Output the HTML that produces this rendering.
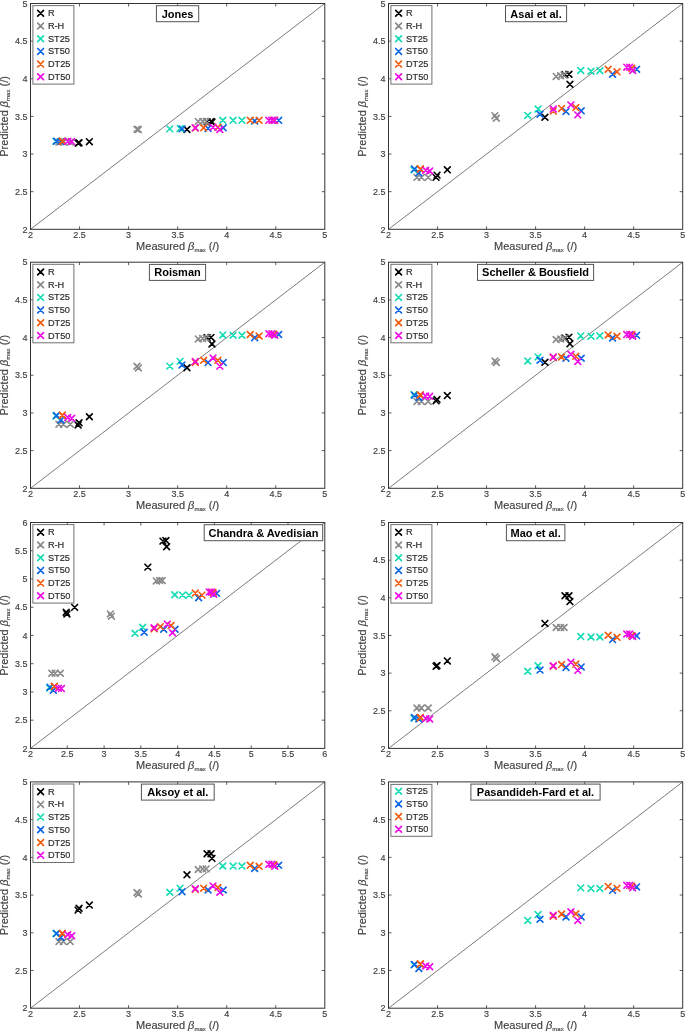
<!DOCTYPE html>
<html><head><meta charset="utf-8"><style>
html,body{margin:0;padding:0;background:#fff;}
svg{display:block;filter:blur(0.5px);}
text{font-family:"Liberation Sans",sans-serif;}
.tk{font-size:9px;fill:#404040;stroke:#404040;stroke-width:0.15px;}
.lg{font-size:9.2px;fill:#262626;stroke:#262626;stroke-width:0.15px;}
.lb{font-size:11px;fill:#404040;stroke:#404040;stroke-width:0.15px;}
.sub{font-size:6px;}
.tt{font-size:11px;font-weight:bold;fill:#000;}
</style></head><body>
<svg width="685" height="1031" viewBox="0 0 685 1031">
<rect width="685" height="1031" fill="#fff"/>
<line x1="30.5" y1="229.3" x2="324.8" y2="3.5" stroke="#505050" stroke-width="0.75"/>
<text x="30.50" y="237.80" text-anchor="middle" class="tk">2</text>
<text x="27.40" y="232.50" text-anchor="end" class="tk">2</text>
<line x1="79.55" y1="229.3" x2="79.55" y2="226.3" stroke="#333333" stroke-width="0.8"/>
<line x1="79.55" y1="3.5" x2="79.55" y2="6.5" stroke="#333333" stroke-width="0.8"/>
<line x1="30.5" y1="191.67" x2="33.5" y2="191.67" stroke="#333333" stroke-width="0.8"/>
<line x1="324.8" y1="191.67" x2="321.8" y2="191.67" stroke="#333333" stroke-width="0.8"/>
<text x="79.55" y="237.80" text-anchor="middle" class="tk">2.5</text>
<text x="27.40" y="194.87" text-anchor="end" class="tk">2.5</text>
<line x1="128.60" y1="229.3" x2="128.60" y2="226.3" stroke="#333333" stroke-width="0.8"/>
<line x1="128.60" y1="3.5" x2="128.60" y2="6.5" stroke="#333333" stroke-width="0.8"/>
<line x1="30.5" y1="154.03" x2="33.5" y2="154.03" stroke="#333333" stroke-width="0.8"/>
<line x1="324.8" y1="154.03" x2="321.8" y2="154.03" stroke="#333333" stroke-width="0.8"/>
<text x="128.60" y="237.80" text-anchor="middle" class="tk">3</text>
<text x="27.40" y="157.23" text-anchor="end" class="tk">3</text>
<line x1="177.65" y1="229.3" x2="177.65" y2="226.3" stroke="#333333" stroke-width="0.8"/>
<line x1="177.65" y1="3.5" x2="177.65" y2="6.5" stroke="#333333" stroke-width="0.8"/>
<line x1="30.5" y1="116.40" x2="33.5" y2="116.40" stroke="#333333" stroke-width="0.8"/>
<line x1="324.8" y1="116.40" x2="321.8" y2="116.40" stroke="#333333" stroke-width="0.8"/>
<text x="177.65" y="237.80" text-anchor="middle" class="tk">3.5</text>
<text x="27.40" y="119.60" text-anchor="end" class="tk">3.5</text>
<line x1="226.70" y1="229.3" x2="226.70" y2="226.3" stroke="#333333" stroke-width="0.8"/>
<line x1="226.70" y1="3.5" x2="226.70" y2="6.5" stroke="#333333" stroke-width="0.8"/>
<line x1="30.5" y1="78.77" x2="33.5" y2="78.77" stroke="#333333" stroke-width="0.8"/>
<line x1="324.8" y1="78.77" x2="321.8" y2="78.77" stroke="#333333" stroke-width="0.8"/>
<text x="226.70" y="237.80" text-anchor="middle" class="tk">4</text>
<text x="27.40" y="81.97" text-anchor="end" class="tk">4</text>
<line x1="275.75" y1="229.3" x2="275.75" y2="226.3" stroke="#333333" stroke-width="0.8"/>
<line x1="275.75" y1="3.5" x2="275.75" y2="6.5" stroke="#333333" stroke-width="0.8"/>
<line x1="30.5" y1="41.13" x2="33.5" y2="41.13" stroke="#333333" stroke-width="0.8"/>
<line x1="324.8" y1="41.13" x2="321.8" y2="41.13" stroke="#333333" stroke-width="0.8"/>
<text x="275.75" y="237.80" text-anchor="middle" class="tk">4.5</text>
<text x="27.40" y="44.33" text-anchor="end" class="tk">4.5</text>
<text x="324.80" y="237.80" text-anchor="middle" class="tk">5</text>
<text x="27.40" y="6.70" text-anchor="end" class="tk">5</text>
<path d="M75.18 140.22L80.98 146.02M75.18 146.02L80.98 140.22" stroke="#000000" stroke-width="1.65" stroke-linecap="round"/>
<path d="M76.16 139.84L81.96 145.64M76.16 145.64L81.96 139.84" stroke="#000000" stroke-width="1.65" stroke-linecap="round"/>
<path d="M86.46 138.79L92.26 144.59M86.46 144.59L92.26 138.79" stroke="#000000" stroke-width="1.65" stroke-linecap="round"/>
<path d="M184.07 126.60L189.87 132.40M184.07 132.40L189.87 126.60" stroke="#000000" stroke-width="1.65" stroke-linecap="round"/>
<path d="M204.18 118.77L209.98 124.57M204.18 124.57L209.98 118.77" stroke="#000000" stroke-width="1.65" stroke-linecap="round"/>
<path d="M208.10 118.54L213.90 124.34M208.10 124.34L213.90 118.54" stroke="#000000" stroke-width="1.65" stroke-linecap="round"/>
<path d="M209.09 119.15L214.89 124.95M209.09 124.95L214.89 119.15" stroke="#000000" stroke-width="1.65" stroke-linecap="round"/>
<path d="M56.05 139.09L61.85 144.89M56.05 144.89L61.85 139.09" stroke="#8a8a8a" stroke-width="1.65" stroke-linecap="round"/>
<path d="M60.46 139.09L66.26 144.89M60.46 144.89L66.26 139.09" stroke="#8a8a8a" stroke-width="1.65" stroke-linecap="round"/>
<path d="M67.33 139.09L73.13 144.89M67.33 144.89L73.13 139.09" stroke="#8a8a8a" stroke-width="1.65" stroke-linecap="round"/>
<path d="M134.04 126.30L139.84 132.10M134.04 132.10L139.84 126.30" stroke="#8a8a8a" stroke-width="1.65" stroke-linecap="round"/>
<path d="M135.51 126.67L141.31 132.47M135.51 132.47L141.31 126.67" stroke="#8a8a8a" stroke-width="1.65" stroke-linecap="round"/>
<path d="M195.35 118.54L201.15 124.34M195.35 124.34L201.15 118.54" stroke="#8a8a8a" stroke-width="1.65" stroke-linecap="round"/>
<path d="M199.77 118.54L205.57 124.34M199.77 124.34L205.57 118.54" stroke="#8a8a8a" stroke-width="1.65" stroke-linecap="round"/>
<path d="M203.20 118.54L209.00 124.34M203.20 124.34L209.00 118.54" stroke="#8a8a8a" stroke-width="1.65" stroke-linecap="round"/>
<path d="M53.11 138.34L58.91 144.14M53.11 144.14L58.91 138.34" stroke="#14dcb4" stroke-width="1.65" stroke-linecap="round"/>
<path d="M166.90 125.99L172.70 131.79M166.90 131.79L172.70 125.99" stroke="#14dcb4" stroke-width="1.65" stroke-linecap="round"/>
<path d="M177.20 125.54L183.00 131.34M177.20 131.34L183.00 125.54" stroke="#14dcb4" stroke-width="1.65" stroke-linecap="round"/>
<path d="M219.88 117.34L225.68 123.14M219.88 123.14L225.68 117.34" stroke="#14dcb4" stroke-width="1.65" stroke-linecap="round"/>
<path d="M230.18 117.41L235.98 123.21M230.18 123.21L235.98 117.41" stroke="#14dcb4" stroke-width="1.65" stroke-linecap="round"/>
<path d="M239.01 117.41L244.81 123.21M239.01 123.21L244.81 117.41" stroke="#14dcb4" stroke-width="1.65" stroke-linecap="round"/>
<path d="M53.60 138.34L59.40 144.14M53.60 144.14L59.40 138.34" stroke="#0a64e6" stroke-width="1.65" stroke-linecap="round"/>
<path d="M58.01 138.71L63.81 144.51M58.01 144.51L63.81 138.71" stroke="#0a64e6" stroke-width="1.65" stroke-linecap="round"/>
<path d="M179.16 125.99L184.96 131.79M179.16 131.79L184.96 125.99" stroke="#0a64e6" stroke-width="1.65" stroke-linecap="round"/>
<path d="M205.16 125.54L210.96 131.34M205.16 131.34L210.96 125.54" stroke="#0a64e6" stroke-width="1.65" stroke-linecap="round"/>
<path d="M220.37 124.94L226.17 130.74M220.37 130.74L226.17 124.94" stroke="#0a64e6" stroke-width="1.65" stroke-linecap="round"/>
<path d="M251.76 118.02L257.56 123.82M251.76 123.82L257.56 118.02" stroke="#0a64e6" stroke-width="1.65" stroke-linecap="round"/>
<path d="M275.79 117.41L281.59 123.21M275.79 123.21L281.59 117.41" stroke="#0a64e6" stroke-width="1.65" stroke-linecap="round"/>
<path d="M59.48 138.34L65.28 144.14M59.48 144.14L65.28 138.34" stroke="#f55a0a" stroke-width="1.65" stroke-linecap="round"/>
<path d="M59.48 138.34L65.28 144.14M59.48 144.14L65.28 138.34" stroke="#f55a0a" stroke-width="1.65" stroke-linecap="round"/>
<path d="M192.41 125.17L198.21 130.97M192.41 130.97L198.21 125.17" stroke="#f55a0a" stroke-width="1.65" stroke-linecap="round"/>
<path d="M200.75 124.94L206.55 130.74M200.75 130.74L206.55 124.94" stroke="#f55a0a" stroke-width="1.65" stroke-linecap="round"/>
<path d="M214.97 124.34L220.77 130.14M214.97 130.14L220.77 124.34" stroke="#f55a0a" stroke-width="1.65" stroke-linecap="round"/>
<path d="M247.34 117.41L253.14 123.21M247.34 123.21L253.14 117.41" stroke="#f55a0a" stroke-width="1.65" stroke-linecap="round"/>
<path d="M256.17 117.41L261.97 123.21M256.17 123.21L261.97 117.41" stroke="#f55a0a" stroke-width="1.65" stroke-linecap="round"/>
<path d="M270.89 117.41L276.69 123.21M270.89 123.21L276.69 117.41" stroke="#f55a0a" stroke-width="1.65" stroke-linecap="round"/>
<path d="M64.88 138.34L70.68 144.14M64.88 144.14L70.68 138.34" stroke="#f00ae6" stroke-width="1.65" stroke-linecap="round"/>
<path d="M68.80 138.71L74.60 144.51M68.80 144.51L74.60 138.71" stroke="#f00ae6" stroke-width="1.65" stroke-linecap="round"/>
<path d="M192.41 124.94L198.21 130.74M192.41 130.74L198.21 124.94" stroke="#f00ae6" stroke-width="1.65" stroke-linecap="round"/>
<path d="M210.07 124.34L215.87 130.14M210.07 130.14L215.87 124.34" stroke="#f00ae6" stroke-width="1.65" stroke-linecap="round"/>
<path d="M216.93 126.60L222.73 132.40M216.93 132.40L222.73 126.60" stroke="#f00ae6" stroke-width="1.65" stroke-linecap="round"/>
<path d="M265.98 117.41L271.78 123.21M265.98 123.21L271.78 117.41" stroke="#f00ae6" stroke-width="1.65" stroke-linecap="round"/>
<path d="M268.93 117.41L274.73 123.21M268.93 123.21L274.73 117.41" stroke="#f00ae6" stroke-width="1.65" stroke-linecap="round"/>
<path d="M271.87 117.41L277.67 123.21M271.87 123.21L277.67 117.41" stroke="#f00ae6" stroke-width="1.65" stroke-linecap="round"/>
<rect x="30.5" y="3.5" width="294.30" height="225.80" fill="none" stroke="#333333" stroke-width="1"/>
<text x="177.65" y="249.70" text-anchor="middle" class="lb">Measured <tspan font-style="italic">&#946;</tspan><tspan class="sub" dy="2.5">max</tspan><tspan dy="-2.5"> (/)</tspan></text>
<text transform="translate(7.70,116.40) rotate(-90)" x="0" y="0" text-anchor="middle" class="lb">Predicted <tspan font-style="italic">&#946;</tspan><tspan class="sub" dy="2.5">max</tspan><tspan dy="-2.5"> (/)</tspan></text>
<rect x="32.90" y="5.60" width="41.0" height="78.50" fill="#fff" stroke="#707070" stroke-width="1"/>
<path d="M37.70 10.40L43.50 16.20M37.70 16.20L43.50 10.40" stroke="#000000" stroke-width="1.65" stroke-linecap="round"/>
<text x="47.90" y="16.30" class="lg">R</text>
<path d="M37.70 23.10L43.50 28.90M37.70 28.90L43.50 23.10" stroke="#8a8a8a" stroke-width="1.65" stroke-linecap="round"/>
<text x="47.90" y="29.00" class="lg">R-H</text>
<path d="M37.70 35.80L43.50 41.60M37.70 41.60L43.50 35.80" stroke="#14dcb4" stroke-width="1.65" stroke-linecap="round"/>
<text x="47.90" y="41.70" class="lg">ST25</text>
<path d="M37.70 48.50L43.50 54.30M37.70 54.30L43.50 48.50" stroke="#0a64e6" stroke-width="1.65" stroke-linecap="round"/>
<text x="47.90" y="54.40" class="lg">ST50</text>
<path d="M37.70 61.20L43.50 67.00M37.70 67.00L43.50 61.20" stroke="#f55a0a" stroke-width="1.65" stroke-linecap="round"/>
<text x="47.90" y="67.10" class="lg">DT25</text>
<path d="M37.70 73.90L43.50 79.70M37.70 79.70L43.50 73.90" stroke="#f00ae6" stroke-width="1.65" stroke-linecap="round"/>
<text x="47.90" y="79.80" class="lg">DT50</text>
<rect x="156.40" y="5.70" width="42.30" height="16" fill="#fff" stroke="#555" stroke-width="1"/>
<text x="177.55" y="17.60" text-anchor="middle" class="tt">Jones</text>
<line x1="388.5" y1="229.3" x2="682.7" y2="3.5" stroke="#505050" stroke-width="0.75"/>
<text x="388.50" y="237.80" text-anchor="middle" class="tk">2</text>
<text x="385.40" y="232.50" text-anchor="end" class="tk">2</text>
<line x1="437.53" y1="229.3" x2="437.53" y2="226.3" stroke="#333333" stroke-width="0.8"/>
<line x1="437.53" y1="3.5" x2="437.53" y2="6.5" stroke="#333333" stroke-width="0.8"/>
<line x1="388.5" y1="191.67" x2="391.5" y2="191.67" stroke="#333333" stroke-width="0.8"/>
<line x1="682.7" y1="191.67" x2="679.7" y2="191.67" stroke="#333333" stroke-width="0.8"/>
<text x="437.53" y="237.80" text-anchor="middle" class="tk">2.5</text>
<text x="385.40" y="194.87" text-anchor="end" class="tk">2.5</text>
<line x1="486.57" y1="229.3" x2="486.57" y2="226.3" stroke="#333333" stroke-width="0.8"/>
<line x1="486.57" y1="3.5" x2="486.57" y2="6.5" stroke="#333333" stroke-width="0.8"/>
<line x1="388.5" y1="154.03" x2="391.5" y2="154.03" stroke="#333333" stroke-width="0.8"/>
<line x1="682.7" y1="154.03" x2="679.7" y2="154.03" stroke="#333333" stroke-width="0.8"/>
<text x="486.57" y="237.80" text-anchor="middle" class="tk">3</text>
<text x="385.40" y="157.23" text-anchor="end" class="tk">3</text>
<line x1="535.60" y1="229.3" x2="535.60" y2="226.3" stroke="#333333" stroke-width="0.8"/>
<line x1="535.60" y1="3.5" x2="535.60" y2="6.5" stroke="#333333" stroke-width="0.8"/>
<line x1="388.5" y1="116.40" x2="391.5" y2="116.40" stroke="#333333" stroke-width="0.8"/>
<line x1="682.7" y1="116.40" x2="679.7" y2="116.40" stroke="#333333" stroke-width="0.8"/>
<text x="535.60" y="237.80" text-anchor="middle" class="tk">3.5</text>
<text x="385.40" y="119.60" text-anchor="end" class="tk">3.5</text>
<line x1="584.63" y1="229.3" x2="584.63" y2="226.3" stroke="#333333" stroke-width="0.8"/>
<line x1="584.63" y1="3.5" x2="584.63" y2="6.5" stroke="#333333" stroke-width="0.8"/>
<line x1="388.5" y1="78.77" x2="391.5" y2="78.77" stroke="#333333" stroke-width="0.8"/>
<line x1="682.7" y1="78.77" x2="679.7" y2="78.77" stroke="#333333" stroke-width="0.8"/>
<text x="584.63" y="237.80" text-anchor="middle" class="tk">4</text>
<text x="385.40" y="81.97" text-anchor="end" class="tk">4</text>
<line x1="633.67" y1="229.3" x2="633.67" y2="226.3" stroke="#333333" stroke-width="0.8"/>
<line x1="633.67" y1="3.5" x2="633.67" y2="6.5" stroke="#333333" stroke-width="0.8"/>
<line x1="388.5" y1="41.13" x2="391.5" y2="41.13" stroke="#333333" stroke-width="0.8"/>
<line x1="682.7" y1="41.13" x2="679.7" y2="41.13" stroke="#333333" stroke-width="0.8"/>
<text x="633.67" y="237.80" text-anchor="middle" class="tk">4.5</text>
<text x="385.40" y="44.33" text-anchor="end" class="tk">4.5</text>
<text x="682.70" y="237.80" text-anchor="middle" class="tk">5</text>
<text x="385.40" y="6.70" text-anchor="end" class="tk">5</text>
<path d="M433.16 174.47L438.96 180.27M433.16 180.27L438.96 174.47" stroke="#000000" stroke-width="1.65" stroke-linecap="round"/>
<path d="M434.14 172.21L439.94 178.01M434.14 178.01L439.94 172.21" stroke="#000000" stroke-width="1.65" stroke-linecap="round"/>
<path d="M444.44 166.94L450.24 172.74M444.44 172.74L450.24 166.94" stroke="#000000" stroke-width="1.65" stroke-linecap="round"/>
<path d="M542.02 114.33L547.82 120.13M542.02 120.13L547.82 114.33" stroke="#000000" stroke-width="1.65" stroke-linecap="round"/>
<path d="M562.12 71.73L567.92 77.53M562.12 77.53L567.92 71.73" stroke="#000000" stroke-width="1.65" stroke-linecap="round"/>
<path d="M566.04 71.35L571.84 77.15M566.04 77.15L571.84 71.35" stroke="#000000" stroke-width="1.65" stroke-linecap="round"/>
<path d="M567.02 81.44L572.82 87.24M567.02 87.24L572.82 81.44" stroke="#000000" stroke-width="1.65" stroke-linecap="round"/>
<path d="M414.04 174.47L419.84 180.27M414.04 180.27L419.84 174.47" stroke="#8a8a8a" stroke-width="1.65" stroke-linecap="round"/>
<path d="M418.45 174.47L424.25 180.27M418.45 180.27L424.25 174.47" stroke="#8a8a8a" stroke-width="1.65" stroke-linecap="round"/>
<path d="M425.32 174.47L431.12 180.27M425.32 180.27L431.12 174.47" stroke="#8a8a8a" stroke-width="1.65" stroke-linecap="round"/>
<path d="M492.00 112.75L497.80 118.55M492.00 118.55L497.80 112.75" stroke="#8a8a8a" stroke-width="1.65" stroke-linecap="round"/>
<path d="M493.47 115.38L499.27 121.18M493.47 121.18L499.27 115.38" stroke="#8a8a8a" stroke-width="1.65" stroke-linecap="round"/>
<path d="M553.29 73.53L559.09 79.33M553.29 79.33L559.09 73.53" stroke="#8a8a8a" stroke-width="1.65" stroke-linecap="round"/>
<path d="M557.71 72.93L563.51 78.73M557.71 78.73L563.51 72.93" stroke="#8a8a8a" stroke-width="1.65" stroke-linecap="round"/>
<path d="M561.14 72.18L566.94 77.98M561.14 77.98L566.94 72.18" stroke="#8a8a8a" stroke-width="1.65" stroke-linecap="round"/>
<path d="M411.10 166.94L416.90 172.74M411.10 172.74L416.90 166.94" stroke="#14dcb4" stroke-width="1.65" stroke-linecap="round"/>
<path d="M524.85 112.52L530.65 118.32M524.85 118.32L530.65 112.52" stroke="#14dcb4" stroke-width="1.65" stroke-linecap="round"/>
<path d="M535.15 106.12L540.95 111.92M535.15 111.92L540.95 106.12" stroke="#14dcb4" stroke-width="1.65" stroke-linecap="round"/>
<path d="M577.81 67.59L583.61 73.39M577.81 73.39L583.61 67.59" stroke="#14dcb4" stroke-width="1.65" stroke-linecap="round"/>
<path d="M588.11 68.34L593.91 74.14M588.11 74.14L593.91 68.34" stroke="#14dcb4" stroke-width="1.65" stroke-linecap="round"/>
<path d="M596.93 67.89L602.73 73.69M596.93 73.69L602.73 67.89" stroke="#14dcb4" stroke-width="1.65" stroke-linecap="round"/>
<path d="M411.59 166.19L417.39 171.99M411.59 171.99L417.39 166.19" stroke="#0a64e6" stroke-width="1.65" stroke-linecap="round"/>
<path d="M416.00 169.95L421.80 175.75M416.00 175.75L421.80 169.95" stroke="#0a64e6" stroke-width="1.65" stroke-linecap="round"/>
<path d="M537.11 111.39L542.91 117.19M537.11 117.19L542.91 111.39" stroke="#0a64e6" stroke-width="1.65" stroke-linecap="round"/>
<path d="M563.10 108.53L568.90 114.33M563.10 114.33L568.90 108.53" stroke="#0a64e6" stroke-width="1.65" stroke-linecap="round"/>
<path d="M578.30 107.93L584.10 113.73M578.30 113.73L584.10 107.93" stroke="#0a64e6" stroke-width="1.65" stroke-linecap="round"/>
<path d="M609.68 71.35L615.48 77.15M609.68 77.15L615.48 71.35" stroke="#0a64e6" stroke-width="1.65" stroke-linecap="round"/>
<path d="M633.71 66.31L639.51 72.11M633.71 72.11L639.51 66.31" stroke="#0a64e6" stroke-width="1.65" stroke-linecap="round"/>
<path d="M417.47 166.19L423.27 171.99M417.47 171.99L423.27 166.19" stroke="#f55a0a" stroke-width="1.65" stroke-linecap="round"/>
<path d="M417.47 166.19L423.27 171.99M417.47 171.99L423.27 166.19" stroke="#f55a0a" stroke-width="1.65" stroke-linecap="round"/>
<path d="M550.35 108.23L556.15 114.03M550.35 114.03L556.15 108.23" stroke="#f55a0a" stroke-width="1.65" stroke-linecap="round"/>
<path d="M558.69 105.52L564.49 111.32M558.69 111.32L564.49 105.52" stroke="#f55a0a" stroke-width="1.65" stroke-linecap="round"/>
<path d="M572.91 104.69L578.71 110.49M572.91 110.49L578.71 104.69" stroke="#f55a0a" stroke-width="1.65" stroke-linecap="round"/>
<path d="M605.27 66.31L611.07 72.11M605.27 72.11L611.07 66.31" stroke="#f55a0a" stroke-width="1.65" stroke-linecap="round"/>
<path d="M614.10 68.94L619.90 74.74M614.10 74.74L619.90 68.94" stroke="#f55a0a" stroke-width="1.65" stroke-linecap="round"/>
<path d="M628.81 65.33L634.61 71.13M628.81 71.13L634.61 65.33" stroke="#f55a0a" stroke-width="1.65" stroke-linecap="round"/>
<path d="M422.87 167.32L428.67 173.12M422.87 173.12L428.67 167.32" stroke="#f00ae6" stroke-width="1.65" stroke-linecap="round"/>
<path d="M426.79 168.07L432.59 173.87M426.79 173.87L432.59 168.07" stroke="#f00ae6" stroke-width="1.65" stroke-linecap="round"/>
<path d="M550.35 106.12L556.15 111.92M550.35 111.92L556.15 106.12" stroke="#f00ae6" stroke-width="1.65" stroke-linecap="round"/>
<path d="M568.00 101.98L573.80 107.78M568.00 107.78L573.80 101.98" stroke="#f00ae6" stroke-width="1.65" stroke-linecap="round"/>
<path d="M574.87 111.99L580.67 117.79M574.87 117.79L580.67 111.99" stroke="#f00ae6" stroke-width="1.65" stroke-linecap="round"/>
<path d="M623.90 64.28L629.70 70.08M623.90 70.08L629.70 64.28" stroke="#f00ae6" stroke-width="1.65" stroke-linecap="round"/>
<path d="M626.84 64.28L632.64 70.08M626.84 70.08L632.64 64.28" stroke="#f00ae6" stroke-width="1.65" stroke-linecap="round"/>
<path d="M629.79 67.59L635.59 73.39M629.79 73.39L635.59 67.59" stroke="#f00ae6" stroke-width="1.65" stroke-linecap="round"/>
<rect x="388.5" y="3.5" width="294.20" height="225.80" fill="none" stroke="#333333" stroke-width="1"/>
<text x="535.60" y="249.70" text-anchor="middle" class="lb">Measured <tspan font-style="italic">&#946;</tspan><tspan class="sub" dy="2.5">max</tspan><tspan dy="-2.5"> (/)</tspan></text>
<text transform="translate(365.70,116.40) rotate(-90)" x="0" y="0" text-anchor="middle" class="lb">Predicted <tspan font-style="italic">&#946;</tspan><tspan class="sub" dy="2.5">max</tspan><tspan dy="-2.5"> (/)</tspan></text>
<rect x="390.90" y="5.60" width="41.0" height="78.50" fill="#fff" stroke="#707070" stroke-width="1"/>
<path d="M395.70 10.40L401.50 16.20M395.70 16.20L401.50 10.40" stroke="#000000" stroke-width="1.65" stroke-linecap="round"/>
<text x="405.90" y="16.30" class="lg">R</text>
<path d="M395.70 23.10L401.50 28.90M395.70 28.90L401.50 23.10" stroke="#8a8a8a" stroke-width="1.65" stroke-linecap="round"/>
<text x="405.90" y="29.00" class="lg">R-H</text>
<path d="M395.70 35.80L401.50 41.60M395.70 41.60L401.50 35.80" stroke="#14dcb4" stroke-width="1.65" stroke-linecap="round"/>
<text x="405.90" y="41.70" class="lg">ST25</text>
<path d="M395.70 48.50L401.50 54.30M395.70 54.30L401.50 48.50" stroke="#0a64e6" stroke-width="1.65" stroke-linecap="round"/>
<text x="405.90" y="54.40" class="lg">ST50</text>
<path d="M395.70 61.20L401.50 67.00M395.70 67.00L401.50 61.20" stroke="#f55a0a" stroke-width="1.65" stroke-linecap="round"/>
<text x="405.90" y="67.10" class="lg">DT25</text>
<path d="M395.70 73.90L401.50 79.70M395.70 79.70L401.50 73.90" stroke="#f00ae6" stroke-width="1.65" stroke-linecap="round"/>
<text x="405.90" y="79.80" class="lg">DT50</text>
<rect x="505.50" y="5.70" width="61.10" height="16" fill="#fff" stroke="#555" stroke-width="1"/>
<text x="536.05" y="17.60" text-anchor="middle" class="tt">Asai et al.</text>
<line x1="30.5" y1="488.3" x2="324.8" y2="262.2" stroke="#505050" stroke-width="0.75"/>
<text x="30.50" y="496.80" text-anchor="middle" class="tk">2</text>
<text x="27.40" y="491.50" text-anchor="end" class="tk">2</text>
<line x1="79.55" y1="488.3" x2="79.55" y2="485.3" stroke="#333333" stroke-width="0.8"/>
<line x1="79.55" y1="262.2" x2="79.55" y2="265.2" stroke="#333333" stroke-width="0.8"/>
<line x1="30.5" y1="450.62" x2="33.5" y2="450.62" stroke="#333333" stroke-width="0.8"/>
<line x1="324.8" y1="450.62" x2="321.8" y2="450.62" stroke="#333333" stroke-width="0.8"/>
<text x="79.55" y="496.80" text-anchor="middle" class="tk">2.5</text>
<text x="27.40" y="453.82" text-anchor="end" class="tk">2.5</text>
<line x1="128.60" y1="488.3" x2="128.60" y2="485.3" stroke="#333333" stroke-width="0.8"/>
<line x1="128.60" y1="262.2" x2="128.60" y2="265.2" stroke="#333333" stroke-width="0.8"/>
<line x1="30.5" y1="412.93" x2="33.5" y2="412.93" stroke="#333333" stroke-width="0.8"/>
<line x1="324.8" y1="412.93" x2="321.8" y2="412.93" stroke="#333333" stroke-width="0.8"/>
<text x="128.60" y="496.80" text-anchor="middle" class="tk">3</text>
<text x="27.40" y="416.13" text-anchor="end" class="tk">3</text>
<line x1="177.65" y1="488.3" x2="177.65" y2="485.3" stroke="#333333" stroke-width="0.8"/>
<line x1="177.65" y1="262.2" x2="177.65" y2="265.2" stroke="#333333" stroke-width="0.8"/>
<line x1="30.5" y1="375.25" x2="33.5" y2="375.25" stroke="#333333" stroke-width="0.8"/>
<line x1="324.8" y1="375.25" x2="321.8" y2="375.25" stroke="#333333" stroke-width="0.8"/>
<text x="177.65" y="496.80" text-anchor="middle" class="tk">3.5</text>
<text x="27.40" y="378.45" text-anchor="end" class="tk">3.5</text>
<line x1="226.70" y1="488.3" x2="226.70" y2="485.3" stroke="#333333" stroke-width="0.8"/>
<line x1="226.70" y1="262.2" x2="226.70" y2="265.2" stroke="#333333" stroke-width="0.8"/>
<line x1="30.5" y1="337.57" x2="33.5" y2="337.57" stroke="#333333" stroke-width="0.8"/>
<line x1="324.8" y1="337.57" x2="321.8" y2="337.57" stroke="#333333" stroke-width="0.8"/>
<text x="226.70" y="496.80" text-anchor="middle" class="tk">4</text>
<text x="27.40" y="340.77" text-anchor="end" class="tk">4</text>
<line x1="275.75" y1="488.3" x2="275.75" y2="485.3" stroke="#333333" stroke-width="0.8"/>
<line x1="275.75" y1="262.2" x2="275.75" y2="265.2" stroke="#333333" stroke-width="0.8"/>
<line x1="30.5" y1="299.88" x2="33.5" y2="299.88" stroke="#333333" stroke-width="0.8"/>
<line x1="324.8" y1="299.88" x2="321.8" y2="299.88" stroke="#333333" stroke-width="0.8"/>
<text x="275.75" y="496.80" text-anchor="middle" class="tk">4.5</text>
<text x="27.40" y="303.08" text-anchor="end" class="tk">4.5</text>
<text x="324.80" y="496.80" text-anchor="middle" class="tk">5</text>
<text x="27.40" y="265.40" text-anchor="end" class="tk">5</text>
<path d="M75.18 422.09L80.98 427.89M75.18 427.89L80.98 422.09" stroke="#000000" stroke-width="1.65" stroke-linecap="round"/>
<path d="M76.16 419.83L81.96 425.63M76.16 425.63L81.96 419.83" stroke="#000000" stroke-width="1.65" stroke-linecap="round"/>
<path d="M86.46 413.80L92.26 419.60M86.46 419.60L92.26 413.80" stroke="#000000" stroke-width="1.65" stroke-linecap="round"/>
<path d="M184.07 364.89L189.87 370.69M184.07 370.69L189.87 364.89" stroke="#000000" stroke-width="1.65" stroke-linecap="round"/>
<path d="M204.18 334.67L209.98 340.47M204.18 340.47L209.98 334.67" stroke="#000000" stroke-width="1.65" stroke-linecap="round"/>
<path d="M208.10 334.52L213.90 340.32M208.10 340.32L213.90 334.52" stroke="#000000" stroke-width="1.65" stroke-linecap="round"/>
<path d="M209.09 341.07L214.89 346.87M209.09 346.87L214.89 341.07" stroke="#000000" stroke-width="1.65" stroke-linecap="round"/>
<path d="M56.05 421.34L61.85 427.14M56.05 427.14L61.85 421.34" stroke="#8a8a8a" stroke-width="1.65" stroke-linecap="round"/>
<path d="M60.46 421.34L66.26 427.14M60.46 427.14L66.26 421.34" stroke="#8a8a8a" stroke-width="1.65" stroke-linecap="round"/>
<path d="M67.33 421.34L73.13 427.14M67.33 427.14L73.13 421.34" stroke="#8a8a8a" stroke-width="1.65" stroke-linecap="round"/>
<path d="M134.04 363.31L139.84 369.11M134.04 369.11L139.84 363.31" stroke="#8a8a8a" stroke-width="1.65" stroke-linecap="round"/>
<path d="M135.51 365.04L141.31 370.84M135.51 370.84L141.31 365.04" stroke="#8a8a8a" stroke-width="1.65" stroke-linecap="round"/>
<path d="M195.35 336.02L201.15 341.82M195.35 341.82L201.15 336.02" stroke="#8a8a8a" stroke-width="1.65" stroke-linecap="round"/>
<path d="M199.77 335.50L205.57 341.30M199.77 341.30L205.57 335.50" stroke="#8a8a8a" stroke-width="1.65" stroke-linecap="round"/>
<path d="M203.20 335.19L209.00 340.99M203.20 340.99L209.00 335.19" stroke="#8a8a8a" stroke-width="1.65" stroke-linecap="round"/>
<path d="M53.11 413.05L58.91 418.85M53.11 418.85L58.91 413.05" stroke="#14dcb4" stroke-width="1.65" stroke-linecap="round"/>
<path d="M166.90 363.23L172.70 369.03M166.90 369.03L172.70 363.23" stroke="#14dcb4" stroke-width="1.65" stroke-linecap="round"/>
<path d="M177.20 358.48L183.00 364.28M177.20 364.28L183.00 358.48" stroke="#14dcb4" stroke-width="1.65" stroke-linecap="round"/>
<path d="M219.88 332.03L225.68 337.83M219.88 337.83L225.68 332.03" stroke="#14dcb4" stroke-width="1.65" stroke-linecap="round"/>
<path d="M230.18 332.33L235.98 338.13M230.18 338.13L235.98 332.33" stroke="#14dcb4" stroke-width="1.65" stroke-linecap="round"/>
<path d="M239.01 332.33L244.81 338.13M239.01 338.13L244.81 332.33" stroke="#14dcb4" stroke-width="1.65" stroke-linecap="round"/>
<path d="M53.60 412.67L59.40 418.47M53.60 418.47L59.40 412.67" stroke="#0a64e6" stroke-width="1.65" stroke-linecap="round"/>
<path d="M58.01 417.12L63.81 422.92M58.01 422.92L63.81 417.12" stroke="#0a64e6" stroke-width="1.65" stroke-linecap="round"/>
<path d="M179.16 362.02L184.96 367.82M179.16 367.82L184.96 362.02" stroke="#0a64e6" stroke-width="1.65" stroke-linecap="round"/>
<path d="M205.16 359.69L210.96 365.49M205.16 365.49L210.96 359.69" stroke="#0a64e6" stroke-width="1.65" stroke-linecap="round"/>
<path d="M220.37 359.69L226.17 365.49M220.37 365.49L226.17 359.69" stroke="#0a64e6" stroke-width="1.65" stroke-linecap="round"/>
<path d="M251.76 334.89L257.56 340.69M251.76 340.69L257.56 334.89" stroke="#0a64e6" stroke-width="1.65" stroke-linecap="round"/>
<path d="M275.79 331.65L281.59 337.45M275.79 337.45L281.59 331.65" stroke="#0a64e6" stroke-width="1.65" stroke-linecap="round"/>
<path d="M59.48 412.29L65.28 418.09M59.48 418.09L65.28 412.29" stroke="#f55a0a" stroke-width="1.65" stroke-linecap="round"/>
<path d="M59.48 412.29L65.28 418.09M59.48 418.09L65.28 412.29" stroke="#f55a0a" stroke-width="1.65" stroke-linecap="round"/>
<path d="M192.41 359.54L198.21 365.34M192.41 365.34L198.21 359.54" stroke="#f55a0a" stroke-width="1.65" stroke-linecap="round"/>
<path d="M200.75 357.43L206.55 363.23M200.75 363.23L206.55 357.43" stroke="#f55a0a" stroke-width="1.65" stroke-linecap="round"/>
<path d="M214.97 357.43L220.77 363.23M214.97 363.23L220.77 357.43" stroke="#f55a0a" stroke-width="1.65" stroke-linecap="round"/>
<path d="M247.34 331.65L253.14 337.45M247.34 337.45L253.14 331.65" stroke="#f55a0a" stroke-width="1.65" stroke-linecap="round"/>
<path d="M256.17 333.01L261.97 338.81M256.17 338.81L261.97 333.01" stroke="#f55a0a" stroke-width="1.65" stroke-linecap="round"/>
<path d="M270.89 331.28L276.69 337.08M270.89 337.08L276.69 331.28" stroke="#f55a0a" stroke-width="1.65" stroke-linecap="round"/>
<path d="M64.88 414.56L70.68 420.36M64.88 420.36L70.68 414.56" stroke="#f00ae6" stroke-width="1.65" stroke-linecap="round"/>
<path d="M68.80 415.31L74.60 421.11M68.80 421.11L74.60 415.31" stroke="#f00ae6" stroke-width="1.65" stroke-linecap="round"/>
<path d="M192.41 358.48L198.21 364.28M192.41 364.28L198.21 358.48" stroke="#f00ae6" stroke-width="1.65" stroke-linecap="round"/>
<path d="M210.07 355.02L215.87 360.82M210.07 360.82L215.87 355.02" stroke="#f00ae6" stroke-width="1.65" stroke-linecap="round"/>
<path d="M216.93 363.23L222.73 369.03M216.93 369.03L222.73 363.23" stroke="#f00ae6" stroke-width="1.65" stroke-linecap="round"/>
<path d="M265.98 330.90L271.78 336.70M265.98 336.70L271.78 330.90" stroke="#f00ae6" stroke-width="1.65" stroke-linecap="round"/>
<path d="M268.93 330.90L274.73 336.70M268.93 336.70L274.73 330.90" stroke="#f00ae6" stroke-width="1.65" stroke-linecap="round"/>
<path d="M271.87 332.33L277.67 338.13M271.87 338.13L277.67 332.33" stroke="#f00ae6" stroke-width="1.65" stroke-linecap="round"/>
<rect x="30.5" y="262.2" width="294.30" height="226.10" fill="none" stroke="#333333" stroke-width="1"/>
<text x="177.65" y="508.70" text-anchor="middle" class="lb">Measured <tspan font-style="italic">&#946;</tspan><tspan class="sub" dy="2.5">max</tspan><tspan dy="-2.5"> (/)</tspan></text>
<text transform="translate(7.70,375.25) rotate(-90)" x="0" y="0" text-anchor="middle" class="lb">Predicted <tspan font-style="italic">&#946;</tspan><tspan class="sub" dy="2.5">max</tspan><tspan dy="-2.5"> (/)</tspan></text>
<rect x="32.90" y="264.30" width="41.0" height="78.50" fill="#fff" stroke="#707070" stroke-width="1"/>
<path d="M37.70 269.10L43.50 274.90M37.70 274.90L43.50 269.10" stroke="#000000" stroke-width="1.65" stroke-linecap="round"/>
<text x="47.90" y="275.00" class="lg">R</text>
<path d="M37.70 281.80L43.50 287.60M37.70 287.60L43.50 281.80" stroke="#8a8a8a" stroke-width="1.65" stroke-linecap="round"/>
<text x="47.90" y="287.70" class="lg">R-H</text>
<path d="M37.70 294.50L43.50 300.30M37.70 300.30L43.50 294.50" stroke="#14dcb4" stroke-width="1.65" stroke-linecap="round"/>
<text x="47.90" y="300.40" class="lg">ST25</text>
<path d="M37.70 307.20L43.50 313.00M37.70 313.00L43.50 307.20" stroke="#0a64e6" stroke-width="1.65" stroke-linecap="round"/>
<text x="47.90" y="313.10" class="lg">ST50</text>
<path d="M37.70 319.90L43.50 325.70M37.70 325.70L43.50 319.90" stroke="#f55a0a" stroke-width="1.65" stroke-linecap="round"/>
<text x="47.90" y="325.80" class="lg">DT25</text>
<path d="M37.70 332.60L43.50 338.40M37.70 338.40L43.50 332.60" stroke="#f00ae6" stroke-width="1.65" stroke-linecap="round"/>
<text x="47.90" y="338.50" class="lg">DT50</text>
<rect x="149.40" y="264.40" width="56.20" height="16" fill="#fff" stroke="#555" stroke-width="1"/>
<text x="177.50" y="276.30" text-anchor="middle" class="tt">Roisman</text>
<line x1="388.5" y1="488.3" x2="682.7" y2="262.2" stroke="#505050" stroke-width="0.75"/>
<text x="388.50" y="496.80" text-anchor="middle" class="tk">2</text>
<text x="385.40" y="491.50" text-anchor="end" class="tk">2</text>
<line x1="437.53" y1="488.3" x2="437.53" y2="485.3" stroke="#333333" stroke-width="0.8"/>
<line x1="437.53" y1="262.2" x2="437.53" y2="265.2" stroke="#333333" stroke-width="0.8"/>
<line x1="388.5" y1="450.62" x2="391.5" y2="450.62" stroke="#333333" stroke-width="0.8"/>
<line x1="682.7" y1="450.62" x2="679.7" y2="450.62" stroke="#333333" stroke-width="0.8"/>
<text x="437.53" y="496.80" text-anchor="middle" class="tk">2.5</text>
<text x="385.40" y="453.82" text-anchor="end" class="tk">2.5</text>
<line x1="486.57" y1="488.3" x2="486.57" y2="485.3" stroke="#333333" stroke-width="0.8"/>
<line x1="486.57" y1="262.2" x2="486.57" y2="265.2" stroke="#333333" stroke-width="0.8"/>
<line x1="388.5" y1="412.93" x2="391.5" y2="412.93" stroke="#333333" stroke-width="0.8"/>
<line x1="682.7" y1="412.93" x2="679.7" y2="412.93" stroke="#333333" stroke-width="0.8"/>
<text x="486.57" y="496.80" text-anchor="middle" class="tk">3</text>
<text x="385.40" y="416.13" text-anchor="end" class="tk">3</text>
<line x1="535.60" y1="488.3" x2="535.60" y2="485.3" stroke="#333333" stroke-width="0.8"/>
<line x1="535.60" y1="262.2" x2="535.60" y2="265.2" stroke="#333333" stroke-width="0.8"/>
<line x1="388.5" y1="375.25" x2="391.5" y2="375.25" stroke="#333333" stroke-width="0.8"/>
<line x1="682.7" y1="375.25" x2="679.7" y2="375.25" stroke="#333333" stroke-width="0.8"/>
<text x="535.60" y="496.80" text-anchor="middle" class="tk">3.5</text>
<text x="385.40" y="378.45" text-anchor="end" class="tk">3.5</text>
<line x1="584.63" y1="488.3" x2="584.63" y2="485.3" stroke="#333333" stroke-width="0.8"/>
<line x1="584.63" y1="262.2" x2="584.63" y2="265.2" stroke="#333333" stroke-width="0.8"/>
<line x1="388.5" y1="337.57" x2="391.5" y2="337.57" stroke="#333333" stroke-width="0.8"/>
<line x1="682.7" y1="337.57" x2="679.7" y2="337.57" stroke="#333333" stroke-width="0.8"/>
<text x="584.63" y="496.80" text-anchor="middle" class="tk">4</text>
<text x="385.40" y="340.77" text-anchor="end" class="tk">4</text>
<line x1="633.67" y1="488.3" x2="633.67" y2="485.3" stroke="#333333" stroke-width="0.8"/>
<line x1="633.67" y1="262.2" x2="633.67" y2="265.2" stroke="#333333" stroke-width="0.8"/>
<line x1="388.5" y1="299.88" x2="391.5" y2="299.88" stroke="#333333" stroke-width="0.8"/>
<line x1="682.7" y1="299.88" x2="679.7" y2="299.88" stroke="#333333" stroke-width="0.8"/>
<text x="633.67" y="496.80" text-anchor="middle" class="tk">4.5</text>
<text x="385.40" y="303.08" text-anchor="end" class="tk">4.5</text>
<text x="682.70" y="496.80" text-anchor="middle" class="tk">5</text>
<text x="385.40" y="265.40" text-anchor="end" class="tk">5</text>
<path d="M433.16 397.97L438.96 403.77M433.16 403.77L438.96 397.97" stroke="#000000" stroke-width="1.65" stroke-linecap="round"/>
<path d="M434.14 396.47L439.94 402.27M434.14 402.27L439.94 396.47" stroke="#000000" stroke-width="1.65" stroke-linecap="round"/>
<path d="M444.44 392.70L450.24 398.50M444.44 398.50L450.24 392.70" stroke="#000000" stroke-width="1.65" stroke-linecap="round"/>
<path d="M542.02 359.31L547.82 365.11M542.02 365.11L547.82 359.31" stroke="#000000" stroke-width="1.65" stroke-linecap="round"/>
<path d="M562.12 335.04L567.92 340.84M562.12 340.84L567.92 335.04" stroke="#000000" stroke-width="1.65" stroke-linecap="round"/>
<path d="M566.04 334.29L571.84 340.09M566.04 340.09L571.84 334.29" stroke="#000000" stroke-width="1.65" stroke-linecap="round"/>
<path d="M567.02 340.92L572.82 346.72M567.02 346.72L572.82 340.92" stroke="#000000" stroke-width="1.65" stroke-linecap="round"/>
<path d="M414.04 398.50L419.84 404.30M414.04 404.30L419.84 398.50" stroke="#8a8a8a" stroke-width="1.65" stroke-linecap="round"/>
<path d="M418.45 398.50L424.25 404.30M418.45 404.30L424.25 398.50" stroke="#8a8a8a" stroke-width="1.65" stroke-linecap="round"/>
<path d="M425.32 398.50L431.12 404.30M425.32 404.30L431.12 398.50" stroke="#8a8a8a" stroke-width="1.65" stroke-linecap="round"/>
<path d="M492.00 358.03L497.80 363.83M492.00 363.83L497.80 358.03" stroke="#8a8a8a" stroke-width="1.65" stroke-linecap="round"/>
<path d="M493.47 359.61L499.27 365.41M493.47 365.41L499.27 359.61" stroke="#8a8a8a" stroke-width="1.65" stroke-linecap="round"/>
<path d="M553.29 336.63L559.09 342.43M553.29 342.43L559.09 336.63" stroke="#8a8a8a" stroke-width="1.65" stroke-linecap="round"/>
<path d="M557.71 336.02L563.51 341.82M557.71 341.82L563.51 336.02" stroke="#8a8a8a" stroke-width="1.65" stroke-linecap="round"/>
<path d="M561.14 335.57L566.94 341.37M561.14 341.37L566.94 335.57" stroke="#8a8a8a" stroke-width="1.65" stroke-linecap="round"/>
<path d="M411.10 391.57L416.90 397.37M411.10 397.37L416.90 391.57" stroke="#14dcb4" stroke-width="1.65" stroke-linecap="round"/>
<path d="M524.85 358.03L530.65 363.83M524.85 363.83L530.65 358.03" stroke="#14dcb4" stroke-width="1.65" stroke-linecap="round"/>
<path d="M535.15 354.04L540.95 359.84M535.15 359.84L540.95 354.04" stroke="#14dcb4" stroke-width="1.65" stroke-linecap="round"/>
<path d="M577.81 333.01L583.61 338.81M577.81 338.81L583.61 333.01" stroke="#14dcb4" stroke-width="1.65" stroke-linecap="round"/>
<path d="M588.11 333.39L593.91 339.19M588.11 339.19L593.91 333.39" stroke="#14dcb4" stroke-width="1.65" stroke-linecap="round"/>
<path d="M596.93 332.93L602.73 338.73M596.93 338.73L602.73 332.93" stroke="#14dcb4" stroke-width="1.65" stroke-linecap="round"/>
<path d="M411.59 392.32L417.39 398.12M411.59 398.12L417.39 392.32" stroke="#0a64e6" stroke-width="1.65" stroke-linecap="round"/>
<path d="M416.00 394.51L421.80 400.31M416.00 400.31L421.80 394.51" stroke="#0a64e6" stroke-width="1.65" stroke-linecap="round"/>
<path d="M537.11 357.28L542.91 363.08M537.11 363.08L542.91 357.28" stroke="#0a64e6" stroke-width="1.65" stroke-linecap="round"/>
<path d="M563.10 355.32L568.90 361.12M563.10 361.12L568.90 355.32" stroke="#0a64e6" stroke-width="1.65" stroke-linecap="round"/>
<path d="M578.30 355.32L584.10 361.12M578.30 361.12L584.10 355.32" stroke="#0a64e6" stroke-width="1.65" stroke-linecap="round"/>
<path d="M609.68 335.12L615.48 340.92M609.68 340.92L615.48 335.12" stroke="#0a64e6" stroke-width="1.65" stroke-linecap="round"/>
<path d="M633.71 332.41L639.51 338.21M633.71 338.21L639.51 332.41" stroke="#0a64e6" stroke-width="1.65" stroke-linecap="round"/>
<path d="M417.47 392.02L423.27 397.82M417.47 397.82L423.27 392.02" stroke="#f55a0a" stroke-width="1.65" stroke-linecap="round"/>
<path d="M417.47 392.02L423.27 397.82M417.47 397.82L423.27 392.02" stroke="#f55a0a" stroke-width="1.65" stroke-linecap="round"/>
<path d="M550.35 354.64L556.15 360.44M550.35 360.44L556.15 354.64" stroke="#f55a0a" stroke-width="1.65" stroke-linecap="round"/>
<path d="M558.69 354.04L564.49 359.84M558.69 359.84L564.49 354.04" stroke="#f55a0a" stroke-width="1.65" stroke-linecap="round"/>
<path d="M572.91 353.43L578.71 359.23M572.91 359.23L578.71 353.43" stroke="#f55a0a" stroke-width="1.65" stroke-linecap="round"/>
<path d="M605.27 332.03L611.07 337.83M605.27 337.83L611.07 332.03" stroke="#f55a0a" stroke-width="1.65" stroke-linecap="round"/>
<path d="M614.10 333.31L619.90 339.11M614.10 339.11L619.90 333.31" stroke="#f55a0a" stroke-width="1.65" stroke-linecap="round"/>
<path d="M628.81 331.65L634.61 337.45M628.81 337.45L634.61 331.65" stroke="#f55a0a" stroke-width="1.65" stroke-linecap="round"/>
<path d="M422.87 393.08L428.67 398.88M422.87 398.88L428.67 393.08" stroke="#f00ae6" stroke-width="1.65" stroke-linecap="round"/>
<path d="M426.79 393.45L432.59 399.25M426.79 399.25L432.59 393.45" stroke="#f00ae6" stroke-width="1.65" stroke-linecap="round"/>
<path d="M550.35 354.04L556.15 359.84M550.35 359.84L556.15 354.04" stroke="#f00ae6" stroke-width="1.65" stroke-linecap="round"/>
<path d="M568.00 351.40L573.80 357.20M568.00 357.20L573.80 351.40" stroke="#f00ae6" stroke-width="1.65" stroke-linecap="round"/>
<path d="M574.87 358.63L580.67 364.43M574.87 364.43L580.67 358.63" stroke="#f00ae6" stroke-width="1.65" stroke-linecap="round"/>
<path d="M623.90 331.58L629.70 337.38M623.90 337.38L629.70 331.58" stroke="#f00ae6" stroke-width="1.65" stroke-linecap="round"/>
<path d="M626.84 331.58L632.64 337.38M626.84 337.38L632.64 331.58" stroke="#f00ae6" stroke-width="1.65" stroke-linecap="round"/>
<path d="M629.79 333.31L635.59 339.11M629.79 339.11L635.59 333.31" stroke="#f00ae6" stroke-width="1.65" stroke-linecap="round"/>
<rect x="388.5" y="262.2" width="294.20" height="226.10" fill="none" stroke="#333333" stroke-width="1"/>
<text x="535.60" y="508.70" text-anchor="middle" class="lb">Measured <tspan font-style="italic">&#946;</tspan><tspan class="sub" dy="2.5">max</tspan><tspan dy="-2.5"> (/)</tspan></text>
<text transform="translate(365.70,375.25) rotate(-90)" x="0" y="0" text-anchor="middle" class="lb">Predicted <tspan font-style="italic">&#946;</tspan><tspan class="sub" dy="2.5">max</tspan><tspan dy="-2.5"> (/)</tspan></text>
<rect x="390.90" y="264.30" width="41.0" height="78.50" fill="#fff" stroke="#707070" stroke-width="1"/>
<path d="M395.70 269.10L401.50 274.90M395.70 274.90L401.50 269.10" stroke="#000000" stroke-width="1.65" stroke-linecap="round"/>
<text x="405.90" y="275.00" class="lg">R</text>
<path d="M395.70 281.80L401.50 287.60M395.70 287.60L401.50 281.80" stroke="#8a8a8a" stroke-width="1.65" stroke-linecap="round"/>
<text x="405.90" y="287.70" class="lg">R-H</text>
<path d="M395.70 294.50L401.50 300.30M395.70 300.30L401.50 294.50" stroke="#14dcb4" stroke-width="1.65" stroke-linecap="round"/>
<text x="405.90" y="300.40" class="lg">ST25</text>
<path d="M395.70 307.20L401.50 313.00M395.70 313.00L401.50 307.20" stroke="#0a64e6" stroke-width="1.65" stroke-linecap="round"/>
<text x="405.90" y="313.10" class="lg">ST50</text>
<path d="M395.70 319.90L401.50 325.70M395.70 325.70L401.50 319.90" stroke="#f55a0a" stroke-width="1.65" stroke-linecap="round"/>
<text x="405.90" y="325.80" class="lg">DT25</text>
<path d="M395.70 332.60L401.50 338.40M395.70 338.40L401.50 332.60" stroke="#f00ae6" stroke-width="1.65" stroke-linecap="round"/>
<text x="405.90" y="338.50" class="lg">DT50</text>
<rect x="477.50" y="264.40" width="116.10" height="16" fill="#fff" stroke="#555" stroke-width="1"/>
<text x="535.55" y="276.30" text-anchor="middle" class="tt">Scheller &amp; Bousfield</text>
<line x1="30.5" y1="748.4" x2="324.8" y2="522.5" stroke="#505050" stroke-width="0.75"/>
<text x="30.50" y="756.90" text-anchor="middle" class="tk">2</text>
<text x="27.40" y="751.60" text-anchor="end" class="tk">2</text>
<line x1="67.29" y1="748.4" x2="67.29" y2="745.4" stroke="#333333" stroke-width="0.8"/>
<line x1="67.29" y1="522.5" x2="67.29" y2="525.5" stroke="#333333" stroke-width="0.8"/>
<line x1="30.5" y1="720.16" x2="33.5" y2="720.16" stroke="#333333" stroke-width="0.8"/>
<line x1="324.8" y1="720.16" x2="321.8" y2="720.16" stroke="#333333" stroke-width="0.8"/>
<text x="67.29" y="756.90" text-anchor="middle" class="tk">2.5</text>
<text x="27.40" y="723.36" text-anchor="end" class="tk">2.5</text>
<line x1="104.08" y1="748.4" x2="104.08" y2="745.4" stroke="#333333" stroke-width="0.8"/>
<line x1="104.08" y1="522.5" x2="104.08" y2="525.5" stroke="#333333" stroke-width="0.8"/>
<line x1="30.5" y1="691.92" x2="33.5" y2="691.92" stroke="#333333" stroke-width="0.8"/>
<line x1="324.8" y1="691.92" x2="321.8" y2="691.92" stroke="#333333" stroke-width="0.8"/>
<text x="104.08" y="756.90" text-anchor="middle" class="tk">3</text>
<text x="27.40" y="695.12" text-anchor="end" class="tk">3</text>
<line x1="140.86" y1="748.4" x2="140.86" y2="745.4" stroke="#333333" stroke-width="0.8"/>
<line x1="140.86" y1="522.5" x2="140.86" y2="525.5" stroke="#333333" stroke-width="0.8"/>
<line x1="30.5" y1="663.69" x2="33.5" y2="663.69" stroke="#333333" stroke-width="0.8"/>
<line x1="324.8" y1="663.69" x2="321.8" y2="663.69" stroke="#333333" stroke-width="0.8"/>
<text x="140.86" y="756.90" text-anchor="middle" class="tk">3.5</text>
<text x="27.40" y="666.89" text-anchor="end" class="tk">3.5</text>
<line x1="177.65" y1="748.4" x2="177.65" y2="745.4" stroke="#333333" stroke-width="0.8"/>
<line x1="177.65" y1="522.5" x2="177.65" y2="525.5" stroke="#333333" stroke-width="0.8"/>
<line x1="30.5" y1="635.45" x2="33.5" y2="635.45" stroke="#333333" stroke-width="0.8"/>
<line x1="324.8" y1="635.45" x2="321.8" y2="635.45" stroke="#333333" stroke-width="0.8"/>
<text x="177.65" y="756.90" text-anchor="middle" class="tk">4</text>
<text x="27.40" y="638.65" text-anchor="end" class="tk">4</text>
<line x1="214.44" y1="748.4" x2="214.44" y2="745.4" stroke="#333333" stroke-width="0.8"/>
<line x1="214.44" y1="522.5" x2="214.44" y2="525.5" stroke="#333333" stroke-width="0.8"/>
<line x1="30.5" y1="607.21" x2="33.5" y2="607.21" stroke="#333333" stroke-width="0.8"/>
<line x1="324.8" y1="607.21" x2="321.8" y2="607.21" stroke="#333333" stroke-width="0.8"/>
<text x="214.44" y="756.90" text-anchor="middle" class="tk">4.5</text>
<text x="27.40" y="610.41" text-anchor="end" class="tk">4.5</text>
<line x1="251.23" y1="748.4" x2="251.23" y2="745.4" stroke="#333333" stroke-width="0.8"/>
<line x1="251.23" y1="522.5" x2="251.23" y2="525.5" stroke="#333333" stroke-width="0.8"/>
<line x1="30.5" y1="578.98" x2="33.5" y2="578.98" stroke="#333333" stroke-width="0.8"/>
<line x1="324.8" y1="578.98" x2="321.8" y2="578.98" stroke="#333333" stroke-width="0.8"/>
<text x="251.23" y="756.90" text-anchor="middle" class="tk">5</text>
<text x="27.40" y="582.18" text-anchor="end" class="tk">5</text>
<line x1="288.01" y1="748.4" x2="288.01" y2="745.4" stroke="#333333" stroke-width="0.8"/>
<line x1="288.01" y1="522.5" x2="288.01" y2="525.5" stroke="#333333" stroke-width="0.8"/>
<line x1="30.5" y1="550.74" x2="33.5" y2="550.74" stroke="#333333" stroke-width="0.8"/>
<line x1="324.8" y1="550.74" x2="321.8" y2="550.74" stroke="#333333" stroke-width="0.8"/>
<text x="288.01" y="756.90" text-anchor="middle" class="tk">5.5</text>
<text x="27.40" y="553.94" text-anchor="end" class="tk">5.5</text>
<text x="324.80" y="756.90" text-anchor="middle" class="tk">6</text>
<text x="27.40" y="525.70" text-anchor="end" class="tk">6</text>
<path d="M63.28 609.40L69.08 615.20M63.28 615.20L69.08 609.40" stroke="#000000" stroke-width="1.65" stroke-linecap="round"/>
<path d="M64.02 611.09L69.82 616.89M64.02 616.89L69.82 611.09" stroke="#000000" stroke-width="1.65" stroke-linecap="round"/>
<path d="M71.75 604.48L77.55 610.28M71.75 610.28L77.55 604.48" stroke="#000000" stroke-width="1.65" stroke-linecap="round"/>
<path d="M144.95 564.22L150.75 570.02M144.95 570.02L150.75 564.22" stroke="#000000" stroke-width="1.65" stroke-linecap="round"/>
<path d="M160.03 538.24L165.84 544.04M160.03 544.04L165.84 538.24" stroke="#000000" stroke-width="1.65" stroke-linecap="round"/>
<path d="M162.98 537.67L168.78 543.47M162.98 543.47L168.78 537.67" stroke="#000000" stroke-width="1.65" stroke-linecap="round"/>
<path d="M163.71 543.88L169.51 549.68M163.71 549.68L169.51 543.88" stroke="#000000" stroke-width="1.65" stroke-linecap="round"/>
<path d="M48.94 670.39L54.74 676.19M48.94 676.19L54.74 670.39" stroke="#8a8a8a" stroke-width="1.65" stroke-linecap="round"/>
<path d="M52.25 670.39L58.05 676.19M52.25 676.19L58.05 670.39" stroke="#8a8a8a" stroke-width="1.65" stroke-linecap="round"/>
<path d="M57.40 670.39L63.20 676.19M57.40 676.19L63.20 670.39" stroke="#8a8a8a" stroke-width="1.65" stroke-linecap="round"/>
<path d="M107.43 611.03L113.23 616.83M107.43 616.83L113.23 611.03" stroke="#8a8a8a" stroke-width="1.65" stroke-linecap="round"/>
<path d="M108.53 613.29L114.33 619.09M108.53 619.09L114.33 613.29" stroke="#8a8a8a" stroke-width="1.65" stroke-linecap="round"/>
<path d="M153.41 578.00L159.21 583.80M153.41 583.80L159.21 578.00" stroke="#8a8a8a" stroke-width="1.65" stroke-linecap="round"/>
<path d="M156.72 577.60L162.52 583.40M156.72 583.40L162.52 577.60" stroke="#8a8a8a" stroke-width="1.65" stroke-linecap="round"/>
<path d="M159.30 577.60L165.10 583.40M159.30 583.40L165.10 577.60" stroke="#8a8a8a" stroke-width="1.65" stroke-linecap="round"/>
<path d="M46.73 685.07L52.53 690.87M46.73 690.87L52.53 685.07" stroke="#14dcb4" stroke-width="1.65" stroke-linecap="round"/>
<path d="M132.08 630.40L137.88 636.20M132.08 636.20L137.88 630.40" stroke="#14dcb4" stroke-width="1.65" stroke-linecap="round"/>
<path d="M139.80 624.30L145.60 630.10M139.80 630.10L145.60 624.30" stroke="#14dcb4" stroke-width="1.65" stroke-linecap="round"/>
<path d="M171.81 591.89L177.61 597.69M171.81 597.69L177.61 591.89" stroke="#14dcb4" stroke-width="1.65" stroke-linecap="round"/>
<path d="M179.53 592.23L185.33 598.03M179.53 598.03L185.33 592.23" stroke="#14dcb4" stroke-width="1.65" stroke-linecap="round"/>
<path d="M186.15 592.23L191.95 598.03M186.15 598.03L191.95 592.23" stroke="#14dcb4" stroke-width="1.65" stroke-linecap="round"/>
<path d="M47.10 684.28L52.90 690.08M47.10 690.08L52.90 684.28" stroke="#0a64e6" stroke-width="1.65" stroke-linecap="round"/>
<path d="M50.41 687.33L56.21 693.13M50.41 693.13L56.21 687.33" stroke="#0a64e6" stroke-width="1.65" stroke-linecap="round"/>
<path d="M141.27 629.39L147.07 635.19M141.27 635.19L147.07 629.39" stroke="#0a64e6" stroke-width="1.65" stroke-linecap="round"/>
<path d="M160.77 626.34L166.57 632.14M160.77 632.14L166.57 626.34" stroke="#0a64e6" stroke-width="1.65" stroke-linecap="round"/>
<path d="M172.17 626.34L177.97 632.14M172.17 632.14L177.97 626.34" stroke="#0a64e6" stroke-width="1.65" stroke-linecap="round"/>
<path d="M195.72 594.82L201.52 600.62M195.72 600.62L201.52 594.82" stroke="#0a64e6" stroke-width="1.65" stroke-linecap="round"/>
<path d="M213.74 590.48L219.54 596.28M213.74 596.28L219.54 590.48" stroke="#0a64e6" stroke-width="1.65" stroke-linecap="round"/>
<path d="M51.51 683.49L57.31 689.29M51.51 689.29L57.31 683.49" stroke="#f55a0a" stroke-width="1.65" stroke-linecap="round"/>
<path d="M51.51 683.49L57.31 689.29M51.51 689.29L57.31 683.49" stroke="#f55a0a" stroke-width="1.65" stroke-linecap="round"/>
<path d="M151.21 625.77L157.01 631.57M151.21 631.57L157.01 625.77" stroke="#f55a0a" stroke-width="1.65" stroke-linecap="round"/>
<path d="M157.46 623.74L163.26 629.54M157.46 629.54L163.26 623.74" stroke="#f55a0a" stroke-width="1.65" stroke-linecap="round"/>
<path d="M168.13 622.67L173.93 628.47M168.13 628.47L173.93 622.67" stroke="#f55a0a" stroke-width="1.65" stroke-linecap="round"/>
<path d="M192.41 590.19L198.21 595.99M192.41 595.99L198.21 590.19" stroke="#f55a0a" stroke-width="1.65" stroke-linecap="round"/>
<path d="M199.03 592.23L204.83 598.03M199.03 598.03L204.83 592.23" stroke="#f55a0a" stroke-width="1.65" stroke-linecap="round"/>
<path d="M210.07 589.63L215.87 595.43M210.07 595.43L215.87 589.63" stroke="#f55a0a" stroke-width="1.65" stroke-linecap="round"/>
<path d="M55.56 685.30L61.36 691.10M55.56 691.10L61.36 685.30" stroke="#f00ae6" stroke-width="1.65" stroke-linecap="round"/>
<path d="M58.50 685.69L64.30 691.49M58.50 691.49L64.30 685.69" stroke="#f00ae6" stroke-width="1.65" stroke-linecap="round"/>
<path d="M151.21 624.81L157.01 630.61M151.21 630.61L157.01 624.81" stroke="#f00ae6" stroke-width="1.65" stroke-linecap="round"/>
<path d="M164.45 621.25L170.25 627.05M164.45 627.05L170.25 621.25" stroke="#f00ae6" stroke-width="1.65" stroke-linecap="round"/>
<path d="M169.60 629.90L175.40 635.70M169.60 635.70L175.40 629.90" stroke="#f00ae6" stroke-width="1.65" stroke-linecap="round"/>
<path d="M206.39 589.06L212.19 594.86M206.39 594.86L212.19 589.06" stroke="#f00ae6" stroke-width="1.65" stroke-linecap="round"/>
<path d="M208.59 589.06L214.39 594.86M208.59 594.86L214.39 589.06" stroke="#f00ae6" stroke-width="1.65" stroke-linecap="round"/>
<path d="M210.80 591.32L216.60 597.12M210.80 597.12L216.60 591.32" stroke="#f00ae6" stroke-width="1.65" stroke-linecap="round"/>
<rect x="30.5" y="522.5" width="294.30" height="225.90" fill="none" stroke="#333333" stroke-width="1"/>
<text x="177.65" y="768.80" text-anchor="middle" class="lb">Measured <tspan font-style="italic">&#946;</tspan><tspan class="sub" dy="2.5">max</tspan><tspan dy="-2.5"> (/)</tspan></text>
<text transform="translate(7.70,635.45) rotate(-90)" x="0" y="0" text-anchor="middle" class="lb">Predicted <tspan font-style="italic">&#946;</tspan><tspan class="sub" dy="2.5">max</tspan><tspan dy="-2.5"> (/)</tspan></text>
<rect x="32.90" y="524.60" width="41.0" height="78.50" fill="#fff" stroke="#707070" stroke-width="1"/>
<path d="M37.70 529.40L43.50 535.20M37.70 535.20L43.50 529.40" stroke="#000000" stroke-width="1.65" stroke-linecap="round"/>
<text x="47.90" y="535.30" class="lg">R</text>
<path d="M37.70 542.10L43.50 547.90M37.70 547.90L43.50 542.10" stroke="#8a8a8a" stroke-width="1.65" stroke-linecap="round"/>
<text x="47.90" y="548.00" class="lg">R-H</text>
<path d="M37.70 554.80L43.50 560.60M37.70 560.60L43.50 554.80" stroke="#14dcb4" stroke-width="1.65" stroke-linecap="round"/>
<text x="47.90" y="560.70" class="lg">ST25</text>
<path d="M37.70 567.50L43.50 573.30M37.70 573.30L43.50 567.50" stroke="#0a64e6" stroke-width="1.65" stroke-linecap="round"/>
<text x="47.90" y="573.40" class="lg">ST50</text>
<path d="M37.70 580.20L43.50 586.00M37.70 586.00L43.50 580.20" stroke="#f55a0a" stroke-width="1.65" stroke-linecap="round"/>
<text x="47.90" y="586.10" class="lg">DT25</text>
<path d="M37.70 592.90L43.50 598.70M37.70 598.70L43.50 592.90" stroke="#f00ae6" stroke-width="1.65" stroke-linecap="round"/>
<text x="47.90" y="598.80" class="lg">DT50</text>
<rect x="204.20" y="524.70" width="118.50" height="16" fill="#fff" stroke="#555" stroke-width="1"/>
<text x="263.45" y="536.60" text-anchor="middle" class="tt">Chandra &amp; Avedisian</text>
<line x1="388.5" y1="748.4" x2="682.7" y2="522.5" stroke="#505050" stroke-width="0.75"/>
<text x="388.50" y="756.90" text-anchor="middle" class="tk">2</text>
<text x="385.40" y="751.60" text-anchor="end" class="tk">2</text>
<line x1="437.53" y1="748.4" x2="437.53" y2="745.4" stroke="#333333" stroke-width="0.8"/>
<line x1="437.53" y1="522.5" x2="437.53" y2="525.5" stroke="#333333" stroke-width="0.8"/>
<line x1="388.5" y1="710.75" x2="391.5" y2="710.75" stroke="#333333" stroke-width="0.8"/>
<line x1="682.7" y1="710.75" x2="679.7" y2="710.75" stroke="#333333" stroke-width="0.8"/>
<text x="437.53" y="756.90" text-anchor="middle" class="tk">2.5</text>
<text x="385.40" y="713.95" text-anchor="end" class="tk">2.5</text>
<line x1="486.57" y1="748.4" x2="486.57" y2="745.4" stroke="#333333" stroke-width="0.8"/>
<line x1="486.57" y1="522.5" x2="486.57" y2="525.5" stroke="#333333" stroke-width="0.8"/>
<line x1="388.5" y1="673.10" x2="391.5" y2="673.10" stroke="#333333" stroke-width="0.8"/>
<line x1="682.7" y1="673.10" x2="679.7" y2="673.10" stroke="#333333" stroke-width="0.8"/>
<text x="486.57" y="756.90" text-anchor="middle" class="tk">3</text>
<text x="385.40" y="676.30" text-anchor="end" class="tk">3</text>
<line x1="535.60" y1="748.4" x2="535.60" y2="745.4" stroke="#333333" stroke-width="0.8"/>
<line x1="535.60" y1="522.5" x2="535.60" y2="525.5" stroke="#333333" stroke-width="0.8"/>
<line x1="388.5" y1="635.45" x2="391.5" y2="635.45" stroke="#333333" stroke-width="0.8"/>
<line x1="682.7" y1="635.45" x2="679.7" y2="635.45" stroke="#333333" stroke-width="0.8"/>
<text x="535.60" y="756.90" text-anchor="middle" class="tk">3.5</text>
<text x="385.40" y="638.65" text-anchor="end" class="tk">3.5</text>
<line x1="584.63" y1="748.4" x2="584.63" y2="745.4" stroke="#333333" stroke-width="0.8"/>
<line x1="584.63" y1="522.5" x2="584.63" y2="525.5" stroke="#333333" stroke-width="0.8"/>
<line x1="388.5" y1="597.80" x2="391.5" y2="597.80" stroke="#333333" stroke-width="0.8"/>
<line x1="682.7" y1="597.80" x2="679.7" y2="597.80" stroke="#333333" stroke-width="0.8"/>
<text x="584.63" y="756.90" text-anchor="middle" class="tk">4</text>
<text x="385.40" y="601.00" text-anchor="end" class="tk">4</text>
<line x1="633.67" y1="748.4" x2="633.67" y2="745.4" stroke="#333333" stroke-width="0.8"/>
<line x1="633.67" y1="522.5" x2="633.67" y2="525.5" stroke="#333333" stroke-width="0.8"/>
<line x1="388.5" y1="560.15" x2="391.5" y2="560.15" stroke="#333333" stroke-width="0.8"/>
<line x1="682.7" y1="560.15" x2="679.7" y2="560.15" stroke="#333333" stroke-width="0.8"/>
<text x="633.67" y="756.90" text-anchor="middle" class="tk">4.5</text>
<text x="385.40" y="563.35" text-anchor="end" class="tk">4.5</text>
<text x="682.70" y="756.90" text-anchor="middle" class="tk">5</text>
<text x="385.40" y="525.70" text-anchor="end" class="tk">5</text>
<path d="M433.16 663.42L438.96 669.22M433.16 669.22L438.96 663.42" stroke="#000000" stroke-width="1.65" stroke-linecap="round"/>
<path d="M434.14 662.67L439.94 668.47M434.14 668.47L439.94 662.67" stroke="#000000" stroke-width="1.65" stroke-linecap="round"/>
<path d="M444.44 658.00L450.24 663.80M444.44 663.80L450.24 658.00" stroke="#000000" stroke-width="1.65" stroke-linecap="round"/>
<path d="M542.02 620.50L547.82 626.30M542.02 626.30L547.82 620.50" stroke="#000000" stroke-width="1.65" stroke-linecap="round"/>
<path d="M562.12 592.87L567.92 598.67M562.12 598.67L567.92 592.87" stroke="#000000" stroke-width="1.65" stroke-linecap="round"/>
<path d="M566.04 592.87L571.84 598.67M566.04 598.67L571.84 592.87" stroke="#000000" stroke-width="1.65" stroke-linecap="round"/>
<path d="M567.02 598.67L572.82 604.47M567.02 604.47L572.82 598.67" stroke="#000000" stroke-width="1.65" stroke-linecap="round"/>
<path d="M414.04 705.06L419.84 710.86M414.04 710.86L419.84 705.06" stroke="#8a8a8a" stroke-width="1.65" stroke-linecap="round"/>
<path d="M418.45 705.06L424.25 710.86M418.45 710.86L424.25 705.06" stroke="#8a8a8a" stroke-width="1.65" stroke-linecap="round"/>
<path d="M425.32 705.06L431.12 710.86M425.32 710.86L431.12 705.06" stroke="#8a8a8a" stroke-width="1.65" stroke-linecap="round"/>
<path d="M492.00 653.94L497.80 659.74M492.00 659.74L497.80 653.94" stroke="#8a8a8a" stroke-width="1.65" stroke-linecap="round"/>
<path d="M493.47 655.59L499.27 661.39M493.47 661.39L499.27 655.59" stroke="#8a8a8a" stroke-width="1.65" stroke-linecap="round"/>
<path d="M553.29 624.57L559.09 630.37M553.29 630.37L559.09 624.57" stroke="#8a8a8a" stroke-width="1.65" stroke-linecap="round"/>
<path d="M557.71 624.57L563.51 630.37M557.71 630.37L563.51 624.57" stroke="#8a8a8a" stroke-width="1.65" stroke-linecap="round"/>
<path d="M561.14 624.57L566.94 630.37M561.14 630.37L566.94 624.57" stroke="#8a8a8a" stroke-width="1.65" stroke-linecap="round"/>
<path d="M411.10 715.38L416.90 721.18M411.10 721.18L416.90 715.38" stroke="#14dcb4" stroke-width="1.65" stroke-linecap="round"/>
<path d="M524.85 668.39L530.65 674.19M524.85 674.19L530.65 668.39" stroke="#14dcb4" stroke-width="1.65" stroke-linecap="round"/>
<path d="M535.15 662.90L540.95 668.70M535.15 668.70L540.95 662.90" stroke="#14dcb4" stroke-width="1.65" stroke-linecap="round"/>
<path d="M577.81 633.68L583.61 639.48M577.81 639.48L583.61 633.68" stroke="#14dcb4" stroke-width="1.65" stroke-linecap="round"/>
<path d="M588.11 634.06L593.91 639.86M588.11 639.86L593.91 634.06" stroke="#14dcb4" stroke-width="1.65" stroke-linecap="round"/>
<path d="M596.93 634.06L602.73 639.86M596.93 639.86L602.73 634.06" stroke="#14dcb4" stroke-width="1.65" stroke-linecap="round"/>
<path d="M411.59 714.63L417.39 720.43M411.59 720.43L417.39 714.63" stroke="#0a64e6" stroke-width="1.65" stroke-linecap="round"/>
<path d="M416.00 716.13L421.80 721.93M416.00 721.93L421.80 716.13" stroke="#0a64e6" stroke-width="1.65" stroke-linecap="round"/>
<path d="M537.11 667.19L542.91 672.99M537.11 672.99L542.91 667.19" stroke="#0a64e6" stroke-width="1.65" stroke-linecap="round"/>
<path d="M563.10 664.63L568.90 670.43M563.10 670.43L568.90 664.63" stroke="#0a64e6" stroke-width="1.65" stroke-linecap="round"/>
<path d="M578.30 664.03L584.10 669.83M578.30 669.83L584.10 664.03" stroke="#0a64e6" stroke-width="1.65" stroke-linecap="round"/>
<path d="M609.68 636.69L615.48 642.49M609.68 642.49L615.48 636.69" stroke="#0a64e6" stroke-width="1.65" stroke-linecap="round"/>
<path d="M633.71 632.93L639.51 638.73M633.71 638.73L639.51 632.93" stroke="#0a64e6" stroke-width="1.65" stroke-linecap="round"/>
<path d="M417.47 714.63L423.27 720.43M417.47 720.43L423.27 714.63" stroke="#f55a0a" stroke-width="1.65" stroke-linecap="round"/>
<path d="M417.47 714.63L423.27 720.43M417.47 720.43L423.27 714.63" stroke="#f55a0a" stroke-width="1.65" stroke-linecap="round"/>
<path d="M550.35 663.27L556.15 669.07M550.35 669.07L556.15 663.27" stroke="#f55a0a" stroke-width="1.65" stroke-linecap="round"/>
<path d="M558.69 661.69L564.49 667.49M558.69 667.49L564.49 661.69" stroke="#f55a0a" stroke-width="1.65" stroke-linecap="round"/>
<path d="M572.91 661.16L578.71 666.96M572.91 666.96L578.71 661.16" stroke="#f55a0a" stroke-width="1.65" stroke-linecap="round"/>
<path d="M605.27 632.32L611.07 638.12M605.27 638.12L611.07 632.32" stroke="#f55a0a" stroke-width="1.65" stroke-linecap="round"/>
<path d="M614.10 634.43L619.90 640.23M614.10 640.23L619.90 634.43" stroke="#f55a0a" stroke-width="1.65" stroke-linecap="round"/>
<path d="M628.81 632.55L634.61 638.35M628.81 638.35L634.61 632.55" stroke="#f55a0a" stroke-width="1.65" stroke-linecap="round"/>
<path d="M422.87 715.68L428.67 721.48M422.87 721.48L428.67 715.68" stroke="#f00ae6" stroke-width="1.65" stroke-linecap="round"/>
<path d="M426.79 716.13L432.59 721.93M426.79 721.93L432.59 716.13" stroke="#f00ae6" stroke-width="1.65" stroke-linecap="round"/>
<path d="M550.35 662.90L556.15 668.70M550.35 668.70L556.15 662.90" stroke="#f00ae6" stroke-width="1.65" stroke-linecap="round"/>
<path d="M568.00 659.43L573.80 665.23M568.00 665.23L573.80 659.43" stroke="#f00ae6" stroke-width="1.65" stroke-linecap="round"/>
<path d="M574.87 667.49L580.67 673.29M574.87 673.29L580.67 667.49" stroke="#f00ae6" stroke-width="1.65" stroke-linecap="round"/>
<path d="M623.90 631.12L629.70 636.92M623.90 636.92L629.70 631.12" stroke="#f00ae6" stroke-width="1.65" stroke-linecap="round"/>
<path d="M626.84 631.12L632.64 636.92M626.84 636.92L632.64 631.12" stroke="#f00ae6" stroke-width="1.65" stroke-linecap="round"/>
<path d="M629.79 633.53L635.59 639.33M629.79 639.33L635.59 633.53" stroke="#f00ae6" stroke-width="1.65" stroke-linecap="round"/>
<rect x="388.5" y="522.5" width="294.20" height="225.90" fill="none" stroke="#333333" stroke-width="1"/>
<text x="535.60" y="768.80" text-anchor="middle" class="lb">Measured <tspan font-style="italic">&#946;</tspan><tspan class="sub" dy="2.5">max</tspan><tspan dy="-2.5"> (/)</tspan></text>
<text transform="translate(365.70,635.45) rotate(-90)" x="0" y="0" text-anchor="middle" class="lb">Predicted <tspan font-style="italic">&#946;</tspan><tspan class="sub" dy="2.5">max</tspan><tspan dy="-2.5"> (/)</tspan></text>
<rect x="390.90" y="524.60" width="41.0" height="78.50" fill="#fff" stroke="#707070" stroke-width="1"/>
<path d="M395.70 529.40L401.50 535.20M395.70 535.20L401.50 529.40" stroke="#000000" stroke-width="1.65" stroke-linecap="round"/>
<text x="405.90" y="535.30" class="lg">R</text>
<path d="M395.70 542.10L401.50 547.90M395.70 547.90L401.50 542.10" stroke="#8a8a8a" stroke-width="1.65" stroke-linecap="round"/>
<text x="405.90" y="548.00" class="lg">R-H</text>
<path d="M395.70 554.80L401.50 560.60M395.70 560.60L401.50 554.80" stroke="#14dcb4" stroke-width="1.65" stroke-linecap="round"/>
<text x="405.90" y="560.70" class="lg">ST25</text>
<path d="M395.70 567.50L401.50 573.30M395.70 573.30L401.50 567.50" stroke="#0a64e6" stroke-width="1.65" stroke-linecap="round"/>
<text x="405.90" y="573.40" class="lg">ST50</text>
<path d="M395.70 580.20L401.50 586.00M395.70 586.00L401.50 580.20" stroke="#f55a0a" stroke-width="1.65" stroke-linecap="round"/>
<text x="405.90" y="586.10" class="lg">DT25</text>
<path d="M395.70 592.90L401.50 598.70M395.70 598.70L401.50 592.90" stroke="#f00ae6" stroke-width="1.65" stroke-linecap="round"/>
<text x="405.90" y="598.80" class="lg">DT50</text>
<rect x="506.40" y="524.70" width="58.50" height="16" fill="#fff" stroke="#555" stroke-width="1"/>
<text x="535.65" y="536.60" text-anchor="middle" class="tt">Mao et al.</text>
<line x1="30.5" y1="1008.2" x2="324.8" y2="781.9" stroke="#505050" stroke-width="0.75"/>
<text x="30.50" y="1016.70" text-anchor="middle" class="tk">2</text>
<text x="27.40" y="1011.40" text-anchor="end" class="tk">2</text>
<line x1="79.55" y1="1008.2" x2="79.55" y2="1005.2" stroke="#333333" stroke-width="0.8"/>
<line x1="79.55" y1="781.9" x2="79.55" y2="784.9" stroke="#333333" stroke-width="0.8"/>
<line x1="30.5" y1="970.48" x2="33.5" y2="970.48" stroke="#333333" stroke-width="0.8"/>
<line x1="324.8" y1="970.48" x2="321.8" y2="970.48" stroke="#333333" stroke-width="0.8"/>
<text x="79.55" y="1016.70" text-anchor="middle" class="tk">2.5</text>
<text x="27.40" y="973.68" text-anchor="end" class="tk">2.5</text>
<line x1="128.60" y1="1008.2" x2="128.60" y2="1005.2" stroke="#333333" stroke-width="0.8"/>
<line x1="128.60" y1="781.9" x2="128.60" y2="784.9" stroke="#333333" stroke-width="0.8"/>
<line x1="30.5" y1="932.77" x2="33.5" y2="932.77" stroke="#333333" stroke-width="0.8"/>
<line x1="324.8" y1="932.77" x2="321.8" y2="932.77" stroke="#333333" stroke-width="0.8"/>
<text x="128.60" y="1016.70" text-anchor="middle" class="tk">3</text>
<text x="27.40" y="935.97" text-anchor="end" class="tk">3</text>
<line x1="177.65" y1="1008.2" x2="177.65" y2="1005.2" stroke="#333333" stroke-width="0.8"/>
<line x1="177.65" y1="781.9" x2="177.65" y2="784.9" stroke="#333333" stroke-width="0.8"/>
<line x1="30.5" y1="895.05" x2="33.5" y2="895.05" stroke="#333333" stroke-width="0.8"/>
<line x1="324.8" y1="895.05" x2="321.8" y2="895.05" stroke="#333333" stroke-width="0.8"/>
<text x="177.65" y="1016.70" text-anchor="middle" class="tk">3.5</text>
<text x="27.40" y="898.25" text-anchor="end" class="tk">3.5</text>
<line x1="226.70" y1="1008.2" x2="226.70" y2="1005.2" stroke="#333333" stroke-width="0.8"/>
<line x1="226.70" y1="781.9" x2="226.70" y2="784.9" stroke="#333333" stroke-width="0.8"/>
<line x1="30.5" y1="857.33" x2="33.5" y2="857.33" stroke="#333333" stroke-width="0.8"/>
<line x1="324.8" y1="857.33" x2="321.8" y2="857.33" stroke="#333333" stroke-width="0.8"/>
<text x="226.70" y="1016.70" text-anchor="middle" class="tk">4</text>
<text x="27.40" y="860.53" text-anchor="end" class="tk">4</text>
<line x1="275.75" y1="1008.2" x2="275.75" y2="1005.2" stroke="#333333" stroke-width="0.8"/>
<line x1="275.75" y1="781.9" x2="275.75" y2="784.9" stroke="#333333" stroke-width="0.8"/>
<line x1="30.5" y1="819.62" x2="33.5" y2="819.62" stroke="#333333" stroke-width="0.8"/>
<line x1="324.8" y1="819.62" x2="321.8" y2="819.62" stroke="#333333" stroke-width="0.8"/>
<text x="275.75" y="1016.70" text-anchor="middle" class="tk">4.5</text>
<text x="27.40" y="822.82" text-anchor="end" class="tk">4.5</text>
<text x="324.80" y="1016.70" text-anchor="middle" class="tk">5</text>
<text x="27.40" y="785.10" text-anchor="end" class="tk">5</text>
<path d="M75.18 907.24L80.98 913.04M75.18 913.04L80.98 907.24" stroke="#000000" stroke-width="1.65" stroke-linecap="round"/>
<path d="M76.16 905.35L81.96 911.15M76.16 911.15L81.96 905.35" stroke="#000000" stroke-width="1.65" stroke-linecap="round"/>
<path d="M86.46 902.18L92.26 907.98M86.46 907.98L92.26 902.18" stroke="#000000" stroke-width="1.65" stroke-linecap="round"/>
<path d="M184.07 871.93L189.87 877.73M184.07 877.73L189.87 871.93" stroke="#000000" stroke-width="1.65" stroke-linecap="round"/>
<path d="M204.18 850.89L209.98 856.69M204.18 856.69L209.98 850.89" stroke="#000000" stroke-width="1.65" stroke-linecap="round"/>
<path d="M208.10 850.89L213.90 856.69M208.10 856.69L213.90 850.89" stroke="#000000" stroke-width="1.65" stroke-linecap="round"/>
<path d="M209.09 855.49L214.89 861.29M209.09 861.29L214.89 855.49" stroke="#000000" stroke-width="1.65" stroke-linecap="round"/>
<path d="M56.05 938.69L61.85 944.49M56.05 944.49L61.85 938.69" stroke="#8a8a8a" stroke-width="1.65" stroke-linecap="round"/>
<path d="M60.46 938.69L66.26 944.49M60.46 944.49L66.26 938.69" stroke="#8a8a8a" stroke-width="1.65" stroke-linecap="round"/>
<path d="M67.33 938.69L73.13 944.49M67.33 944.49L73.13 938.69" stroke="#8a8a8a" stroke-width="1.65" stroke-linecap="round"/>
<path d="M134.04 889.59L139.84 895.39M134.04 895.39L139.84 889.59" stroke="#8a8a8a" stroke-width="1.65" stroke-linecap="round"/>
<path d="M135.51 891.09L141.31 896.89M135.51 896.89L141.31 891.09" stroke="#8a8a8a" stroke-width="1.65" stroke-linecap="round"/>
<path d="M195.35 866.58L201.15 872.38M195.35 872.38L201.15 866.58" stroke="#8a8a8a" stroke-width="1.65" stroke-linecap="round"/>
<path d="M199.77 865.97L205.57 871.77M199.77 871.77L205.57 865.97" stroke="#8a8a8a" stroke-width="1.65" stroke-linecap="round"/>
<path d="M203.20 865.97L209.00 871.77M203.20 871.77L209.00 865.97" stroke="#8a8a8a" stroke-width="1.65" stroke-linecap="round"/>
<path d="M53.11 930.62L58.91 936.42M53.11 936.42L58.91 930.62" stroke="#14dcb4" stroke-width="1.65" stroke-linecap="round"/>
<path d="M166.90 889.36L172.70 895.16M166.90 895.16L172.70 889.36" stroke="#14dcb4" stroke-width="1.65" stroke-linecap="round"/>
<path d="M177.20 885.29L183.00 891.09M177.20 891.09L183.00 885.29" stroke="#14dcb4" stroke-width="1.65" stroke-linecap="round"/>
<path d="M219.88 863.11L225.68 868.91M219.88 868.91L225.68 863.11" stroke="#14dcb4" stroke-width="1.65" stroke-linecap="round"/>
<path d="M230.18 863.18L235.98 868.98M230.18 868.98L235.98 863.18" stroke="#14dcb4" stroke-width="1.65" stroke-linecap="round"/>
<path d="M239.01 863.18L244.81 868.98M239.01 868.98L244.81 863.18" stroke="#14dcb4" stroke-width="1.65" stroke-linecap="round"/>
<path d="M53.60 930.70L59.40 936.50M53.60 936.50L59.40 930.70" stroke="#0a64e6" stroke-width="1.65" stroke-linecap="round"/>
<path d="M58.01 934.32L63.81 940.12M58.01 940.12L63.81 934.32" stroke="#0a64e6" stroke-width="1.65" stroke-linecap="round"/>
<path d="M179.16 888.76L184.96 894.56M179.16 894.56L184.96 888.76" stroke="#0a64e6" stroke-width="1.65" stroke-linecap="round"/>
<path d="M205.16 887.10L210.96 892.90M205.16 892.90L210.96 887.10" stroke="#0a64e6" stroke-width="1.65" stroke-linecap="round"/>
<path d="M220.37 887.10L226.17 892.90M220.37 892.90L226.17 887.10" stroke="#0a64e6" stroke-width="1.65" stroke-linecap="round"/>
<path d="M251.76 865.52L257.56 871.32M251.76 871.32L257.56 865.52" stroke="#0a64e6" stroke-width="1.65" stroke-linecap="round"/>
<path d="M275.79 862.43L281.59 868.23M275.79 868.23L281.59 862.43" stroke="#0a64e6" stroke-width="1.65" stroke-linecap="round"/>
<path d="M59.48 930.70L65.28 936.50M59.48 936.50L65.28 930.70" stroke="#f55a0a" stroke-width="1.65" stroke-linecap="round"/>
<path d="M59.48 930.70L65.28 936.50M59.48 936.50L65.28 930.70" stroke="#f55a0a" stroke-width="1.65" stroke-linecap="round"/>
<path d="M192.41 886.49L198.21 892.29M192.41 892.29L198.21 886.49" stroke="#f55a0a" stroke-width="1.65" stroke-linecap="round"/>
<path d="M200.75 885.29L206.55 891.09M200.75 891.09L206.55 885.29" stroke="#f55a0a" stroke-width="1.65" stroke-linecap="round"/>
<path d="M214.97 884.68L220.77 890.48M214.97 890.48L220.77 884.68" stroke="#f55a0a" stroke-width="1.65" stroke-linecap="round"/>
<path d="M247.34 862.43L253.14 868.23M247.34 868.23L253.14 862.43" stroke="#f55a0a" stroke-width="1.65" stroke-linecap="round"/>
<path d="M256.17 863.41L261.97 869.21M256.17 869.21L261.97 863.41" stroke="#f55a0a" stroke-width="1.65" stroke-linecap="round"/>
<path d="M270.89 861.98L276.69 867.78M270.89 867.78L276.69 861.98" stroke="#f55a0a" stroke-width="1.65" stroke-linecap="round"/>
<path d="M64.88 931.75L70.68 937.55M64.88 937.55L70.68 931.75" stroke="#f00ae6" stroke-width="1.65" stroke-linecap="round"/>
<path d="M68.80 932.88L74.60 938.68M68.80 938.68L74.60 932.88" stroke="#f00ae6" stroke-width="1.65" stroke-linecap="round"/>
<path d="M192.41 885.89L198.21 891.69M192.41 891.69L198.21 885.89" stroke="#f00ae6" stroke-width="1.65" stroke-linecap="round"/>
<path d="M210.07 883.02L215.87 888.82M210.07 888.82L215.87 883.02" stroke="#f00ae6" stroke-width="1.65" stroke-linecap="round"/>
<path d="M216.93 889.36L222.73 895.16M216.93 895.16L222.73 889.36" stroke="#f00ae6" stroke-width="1.65" stroke-linecap="round"/>
<path d="M265.98 861.37L271.78 867.17M265.98 867.17L271.78 861.37" stroke="#f00ae6" stroke-width="1.65" stroke-linecap="round"/>
<path d="M268.93 861.37L274.73 867.17M268.93 867.17L274.73 861.37" stroke="#f00ae6" stroke-width="1.65" stroke-linecap="round"/>
<path d="M271.87 863.41L277.67 869.21M271.87 869.21L277.67 863.41" stroke="#f00ae6" stroke-width="1.65" stroke-linecap="round"/>
<rect x="30.5" y="781.9" width="294.30" height="226.30" fill="none" stroke="#333333" stroke-width="1"/>
<text x="177.65" y="1028.60" text-anchor="middle" class="lb">Measured <tspan font-style="italic">&#946;</tspan><tspan class="sub" dy="2.5">max</tspan><tspan dy="-2.5"> (/)</tspan></text>
<text transform="translate(7.70,895.05) rotate(-90)" x="0" y="0" text-anchor="middle" class="lb">Predicted <tspan font-style="italic">&#946;</tspan><tspan class="sub" dy="2.5">max</tspan><tspan dy="-2.5"> (/)</tspan></text>
<rect x="32.90" y="784.00" width="41.0" height="78.50" fill="#fff" stroke="#707070" stroke-width="1"/>
<path d="M37.70 788.80L43.50 794.60M37.70 794.60L43.50 788.80" stroke="#000000" stroke-width="1.65" stroke-linecap="round"/>
<text x="47.90" y="794.70" class="lg">R</text>
<path d="M37.70 801.50L43.50 807.30M37.70 807.30L43.50 801.50" stroke="#8a8a8a" stroke-width="1.65" stroke-linecap="round"/>
<text x="47.90" y="807.40" class="lg">R-H</text>
<path d="M37.70 814.20L43.50 820.00M37.70 820.00L43.50 814.20" stroke="#14dcb4" stroke-width="1.65" stroke-linecap="round"/>
<text x="47.90" y="820.10" class="lg">ST25</text>
<path d="M37.70 826.90L43.50 832.70M37.70 832.70L43.50 826.90" stroke="#0a64e6" stroke-width="1.65" stroke-linecap="round"/>
<text x="47.90" y="832.80" class="lg">ST50</text>
<path d="M37.70 839.60L43.50 845.40M37.70 845.40L43.50 839.60" stroke="#f55a0a" stroke-width="1.65" stroke-linecap="round"/>
<text x="47.90" y="845.50" class="lg">DT25</text>
<path d="M37.70 852.30L43.50 858.10M37.70 858.10L43.50 852.30" stroke="#f00ae6" stroke-width="1.65" stroke-linecap="round"/>
<text x="47.90" y="858.20" class="lg">DT50</text>
<rect x="141.40" y="784.10" width="72.80" height="16" fill="#fff" stroke="#555" stroke-width="1"/>
<text x="177.80" y="796.00" text-anchor="middle" class="tt">Aksoy et al.</text>
<line x1="388.5" y1="1008.2" x2="682.7" y2="781.9" stroke="#505050" stroke-width="0.75"/>
<text x="388.50" y="1016.70" text-anchor="middle" class="tk">2</text>
<text x="385.40" y="1011.40" text-anchor="end" class="tk">2</text>
<line x1="437.53" y1="1008.2" x2="437.53" y2="1005.2" stroke="#333333" stroke-width="0.8"/>
<line x1="437.53" y1="781.9" x2="437.53" y2="784.9" stroke="#333333" stroke-width="0.8"/>
<line x1="388.5" y1="970.48" x2="391.5" y2="970.48" stroke="#333333" stroke-width="0.8"/>
<line x1="682.7" y1="970.48" x2="679.7" y2="970.48" stroke="#333333" stroke-width="0.8"/>
<text x="437.53" y="1016.70" text-anchor="middle" class="tk">2.5</text>
<text x="385.40" y="973.68" text-anchor="end" class="tk">2.5</text>
<line x1="486.57" y1="1008.2" x2="486.57" y2="1005.2" stroke="#333333" stroke-width="0.8"/>
<line x1="486.57" y1="781.9" x2="486.57" y2="784.9" stroke="#333333" stroke-width="0.8"/>
<line x1="388.5" y1="932.77" x2="391.5" y2="932.77" stroke="#333333" stroke-width="0.8"/>
<line x1="682.7" y1="932.77" x2="679.7" y2="932.77" stroke="#333333" stroke-width="0.8"/>
<text x="486.57" y="1016.70" text-anchor="middle" class="tk">3</text>
<text x="385.40" y="935.97" text-anchor="end" class="tk">3</text>
<line x1="535.60" y1="1008.2" x2="535.60" y2="1005.2" stroke="#333333" stroke-width="0.8"/>
<line x1="535.60" y1="781.9" x2="535.60" y2="784.9" stroke="#333333" stroke-width="0.8"/>
<line x1="388.5" y1="895.05" x2="391.5" y2="895.05" stroke="#333333" stroke-width="0.8"/>
<line x1="682.7" y1="895.05" x2="679.7" y2="895.05" stroke="#333333" stroke-width="0.8"/>
<text x="535.60" y="1016.70" text-anchor="middle" class="tk">3.5</text>
<text x="385.40" y="898.25" text-anchor="end" class="tk">3.5</text>
<line x1="584.63" y1="1008.2" x2="584.63" y2="1005.2" stroke="#333333" stroke-width="0.8"/>
<line x1="584.63" y1="781.9" x2="584.63" y2="784.9" stroke="#333333" stroke-width="0.8"/>
<line x1="388.5" y1="857.33" x2="391.5" y2="857.33" stroke="#333333" stroke-width="0.8"/>
<line x1="682.7" y1="857.33" x2="679.7" y2="857.33" stroke="#333333" stroke-width="0.8"/>
<text x="584.63" y="1016.70" text-anchor="middle" class="tk">4</text>
<text x="385.40" y="860.53" text-anchor="end" class="tk">4</text>
<line x1="633.67" y1="1008.2" x2="633.67" y2="1005.2" stroke="#333333" stroke-width="0.8"/>
<line x1="633.67" y1="781.9" x2="633.67" y2="784.9" stroke="#333333" stroke-width="0.8"/>
<line x1="388.5" y1="819.62" x2="391.5" y2="819.62" stroke="#333333" stroke-width="0.8"/>
<line x1="682.7" y1="819.62" x2="679.7" y2="819.62" stroke="#333333" stroke-width="0.8"/>
<text x="633.67" y="1016.70" text-anchor="middle" class="tk">4.5</text>
<text x="385.40" y="822.82" text-anchor="end" class="tk">4.5</text>
<text x="682.70" y="1016.70" text-anchor="middle" class="tk">5</text>
<text x="385.40" y="785.10" text-anchor="end" class="tk">5</text>
<path d="M411.10 961.93L416.90 967.73M411.10 967.73L416.90 961.93" stroke="#14dcb4" stroke-width="1.65" stroke-linecap="round"/>
<path d="M524.85 917.50L530.65 923.30M524.85 923.30L530.65 917.50" stroke="#14dcb4" stroke-width="1.65" stroke-linecap="round"/>
<path d="M535.15 911.69L540.95 917.49M535.15 917.49L540.95 911.69" stroke="#14dcb4" stroke-width="1.65" stroke-linecap="round"/>
<path d="M577.81 884.98L583.61 890.78M577.81 890.78L583.61 884.98" stroke="#14dcb4" stroke-width="1.65" stroke-linecap="round"/>
<path d="M588.11 885.51L593.91 891.31M588.11 891.31L593.91 885.51" stroke="#14dcb4" stroke-width="1.65" stroke-linecap="round"/>
<path d="M596.93 885.51L602.73 891.31M596.93 891.31L602.73 885.51" stroke="#14dcb4" stroke-width="1.65" stroke-linecap="round"/>
<path d="M411.59 961.55L417.39 967.35M411.59 967.35L417.39 961.55" stroke="#0a64e6" stroke-width="1.65" stroke-linecap="round"/>
<path d="M416.00 965.62L421.80 971.42M416.00 971.42L421.80 965.62" stroke="#0a64e6" stroke-width="1.65" stroke-linecap="round"/>
<path d="M537.11 916.36L542.91 922.16M537.11 922.16L542.91 916.36" stroke="#0a64e6" stroke-width="1.65" stroke-linecap="round"/>
<path d="M563.10 914.03L568.90 919.83M563.10 919.83L568.90 914.03" stroke="#0a64e6" stroke-width="1.65" stroke-linecap="round"/>
<path d="M578.30 914.03L584.10 919.83M578.30 919.83L584.10 914.03" stroke="#0a64e6" stroke-width="1.65" stroke-linecap="round"/>
<path d="M609.68 887.47L615.48 893.27M609.68 893.27L615.48 887.47" stroke="#0a64e6" stroke-width="1.65" stroke-linecap="round"/>
<path d="M633.71 884.00L639.51 889.80M633.71 889.80L639.51 884.00" stroke="#0a64e6" stroke-width="1.65" stroke-linecap="round"/>
<path d="M417.47 961.17L423.27 966.97M417.47 966.97L423.27 961.17" stroke="#f55a0a" stroke-width="1.65" stroke-linecap="round"/>
<path d="M417.47 961.17L423.27 966.97M417.47 966.97L423.27 961.17" stroke="#f55a0a" stroke-width="1.65" stroke-linecap="round"/>
<path d="M550.35 913.27L556.15 919.07M550.35 919.07L556.15 913.27" stroke="#f55a0a" stroke-width="1.65" stroke-linecap="round"/>
<path d="M558.69 911.08L564.49 916.88M558.69 916.88L564.49 911.08" stroke="#f55a0a" stroke-width="1.65" stroke-linecap="round"/>
<path d="M572.91 910.93L578.71 916.73M572.91 916.73L578.71 910.93" stroke="#f55a0a" stroke-width="1.65" stroke-linecap="round"/>
<path d="M605.27 883.48L611.07 889.28M605.27 889.28L611.07 883.48" stroke="#f55a0a" stroke-width="1.65" stroke-linecap="round"/>
<path d="M614.10 885.29L619.90 891.09M614.10 891.09L619.90 885.29" stroke="#f55a0a" stroke-width="1.65" stroke-linecap="round"/>
<path d="M628.81 883.10L634.61 888.90M628.81 888.90L634.61 883.10" stroke="#f55a0a" stroke-width="1.65" stroke-linecap="round"/>
<path d="M422.87 963.06L428.67 968.86M422.87 968.86L428.67 963.06" stroke="#f00ae6" stroke-width="1.65" stroke-linecap="round"/>
<path d="M426.79 963.81L432.59 969.61M426.79 969.61L432.59 963.81" stroke="#f00ae6" stroke-width="1.65" stroke-linecap="round"/>
<path d="M550.35 912.29L556.15 918.09M550.35 918.09L556.15 912.29" stroke="#f00ae6" stroke-width="1.65" stroke-linecap="round"/>
<path d="M568.00 908.82L573.80 914.62M568.00 914.62L573.80 908.82" stroke="#f00ae6" stroke-width="1.65" stroke-linecap="round"/>
<path d="M574.87 917.50L580.67 923.30M574.87 923.30L580.67 917.50" stroke="#f00ae6" stroke-width="1.65" stroke-linecap="round"/>
<path d="M623.90 882.42L629.70 888.22M623.90 888.22L629.70 882.42" stroke="#f00ae6" stroke-width="1.65" stroke-linecap="round"/>
<path d="M626.84 882.42L632.64 888.22M626.84 888.22L632.64 882.42" stroke="#f00ae6" stroke-width="1.65" stroke-linecap="round"/>
<path d="M629.79 884.98L635.59 890.78M629.79 890.78L635.59 884.98" stroke="#f00ae6" stroke-width="1.65" stroke-linecap="round"/>
<rect x="388.5" y="781.9" width="294.20" height="226.30" fill="none" stroke="#333333" stroke-width="1"/>
<text x="535.60" y="1028.60" text-anchor="middle" class="lb">Measured <tspan font-style="italic">&#946;</tspan><tspan class="sub" dy="2.5">max</tspan><tspan dy="-2.5"> (/)</tspan></text>
<text transform="translate(365.70,895.05) rotate(-90)" x="0" y="0" text-anchor="middle" class="lb">Predicted <tspan font-style="italic">&#946;</tspan><tspan class="sub" dy="2.5">max</tspan><tspan dy="-2.5"> (/)</tspan></text>
<rect x="390.90" y="784.40" width="41.0" height="51.90" fill="#fff" stroke="#707070" stroke-width="1"/>
<path d="M395.70 788.30L401.50 794.10M395.70 794.10L401.50 788.30" stroke="#14dcb4" stroke-width="1.65" stroke-linecap="round"/>
<text x="405.90" y="794.20" class="lg">ST25</text>
<path d="M395.70 801.00L401.50 806.80M395.70 806.80L401.50 801.00" stroke="#0a64e6" stroke-width="1.65" stroke-linecap="round"/>
<text x="405.90" y="806.90" class="lg">ST50</text>
<path d="M395.70 813.70L401.50 819.50M395.70 819.50L401.50 813.70" stroke="#f55a0a" stroke-width="1.65" stroke-linecap="round"/>
<text x="405.90" y="819.60" class="lg">DT25</text>
<path d="M395.70 826.40L401.50 832.20M395.70 832.20L401.50 826.40" stroke="#f00ae6" stroke-width="1.65" stroke-linecap="round"/>
<text x="405.90" y="832.30" class="lg">DT50</text>
<rect x="470.90" y="784.10" width="129.20" height="16" fill="#fff" stroke="#555" stroke-width="1"/>
<text x="535.50" y="796.00" text-anchor="middle" class="tt">Pasandideh-Fard et al.</text>
</svg></body></html>
